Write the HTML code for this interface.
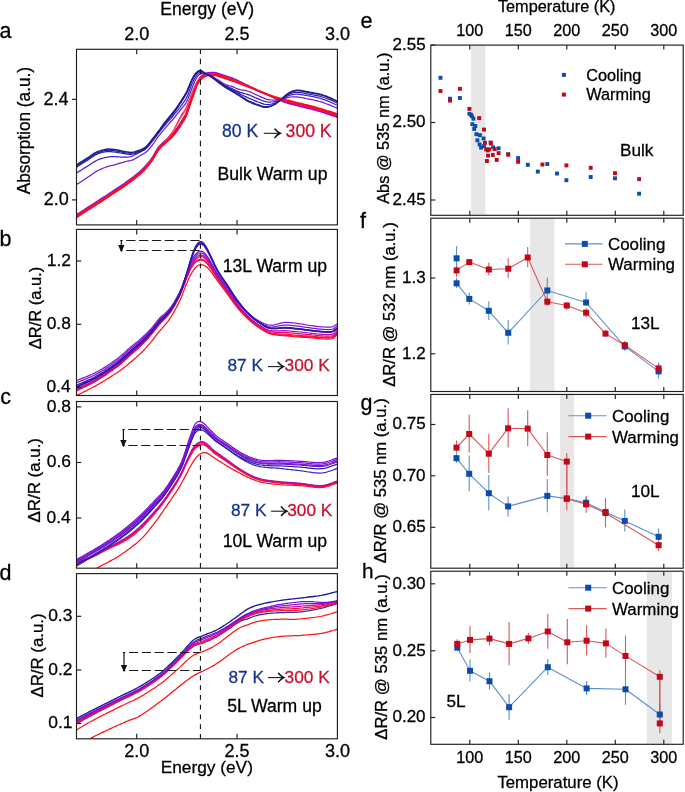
<!DOCTYPE html>
<html><head><meta charset="utf-8"><title>figure</title>
<style>html,body{margin:0;padding:0;background:#fff;}svg{display:block;will-change:transform;}
text{font-family:"Liberation Sans", sans-serif;}</style></head>
<body>
<svg width="685" height="792" viewBox="0 0 685 792" font-family='"Liberation Sans", sans-serif'>
<rect width="685" height="792" fill="#fff"/>
<defs>
<clipPath id="cla"><rect x="76.5" y="49.3" width="260.9" height="175.6"/></clipPath>
<clipPath id="clb"><rect x="76.5" y="229.4" width="260.9" height="166.1"/></clipPath>
<clipPath id="clc"><rect x="76.5" y="401.5" width="260.9" height="166.7"/></clipPath>
<clipPath id="cld"><rect x="76.5" y="573.6" width="260.9" height="165.2"/></clipPath>
</defs>
<rect x="471.2" y="45.7" width="14.3" height="169" fill="#e7e7e7" stroke="none" stroke-width="0" />
<rect x="530.1" y="218.8" width="24.3" height="172.1" fill="#e7e7e7" stroke="none" stroke-width="0" />
<rect x="560" y="395.05" width="14.1" height="172.55" fill="#e7e7e7" stroke="none" stroke-width="0" />
<rect x="646.8" y="571.8" width="25.1" height="171.9" fill="#e7e7e7" stroke="none" stroke-width="0" />
<path d="M76.5 214.7 78.0 213.7 79.5 212.8 81.0 211.8 82.5 210.8 84.0 209.9 85.5 208.9 87.0 207.9 88.5 206.9 90.0 206.0 91.5 205.0 93.0 204.0 94.5 203.1 96.0 202.1 97.5 201.1 99.0 200.2 100.5 199.2 102.0 198.2 103.5 197.2 105.0 196.3 106.5 195.3 108.0 194.3 109.5 193.3 111.0 192.3 112.5 191.4 114.0 190.4 115.5 189.4 117.0 188.4 118.5 187.4 120.0 186.4 121.5 185.4 123.0 184.3 124.5 183.3 126.0 182.2 127.5 181.2 129.0 180.1 130.5 179.0 132.0 177.9 133.5 176.8 135.0 175.6 136.5 174.4 138.0 173.2 139.5 171.9 141.0 170.6 142.5 169.1 144.0 167.6 145.5 165.9 147.0 164.2 148.5 162.5 150.0 160.6 151.5 158.6 153.0 156.3 154.5 153.8 156.0 151.2 157.5 148.7 159.0 146.7 160.5 145.0 162.0 143.5 163.5 142.1 165.0 140.8 166.5 139.5 168.0 138.0 169.5 136.6 171.0 135.2 172.5 133.6 174.0 132.0 175.5 130.2 177.0 128.2 178.5 126.0 180.0 123.7 181.5 121.2 183.0 118.7 184.5 116.5 186.0 113.5 187.5 109.5 189.0 104.9 190.5 100.6 192.0 96.3 193.5 92.1 195.0 87.7 196.5 83.5 198.0 80.6 199.5 78.3 201.0 76.6 202.5 75.3 204.0 74.3 205.5 73.5 207.0 73.0 208.5 72.7 210.0 72.6 211.5 72.5 213.0 72.5 214.5 72.6 216.0 72.8 217.5 73.2 219.0 73.6 220.5 74.1 222.0 74.6 223.5 75.1 225.0 75.6 226.5 76.1 228.0 76.7 229.5 77.2 231.0 77.7 232.5 78.3 234.0 78.9 235.5 79.5 237.0 80.2 238.5 80.9 240.0 81.6 241.5 82.3 243.0 83.1 244.5 83.8 246.0 84.6 247.5 85.3 249.0 86.0 250.5 86.8 252.0 87.5 253.5 88.2 255.0 89.0 256.5 89.7 258.0 90.4 259.5 91.0 261.0 91.7 262.5 92.3 264.0 93.0 265.5 93.7 267.0 94.4 268.5 95.1 270.0 95.8 271.5 96.6 273.0 97.3 274.5 98.0 276.0 98.7 277.5 99.4 279.0 100.0 280.5 100.6 282.0 101.2 283.5 101.8 285.0 102.3 286.5 102.8 288.0 103.3 289.5 103.7 291.0 104.1 292.5 104.5 294.0 104.9 295.5 105.3 297.0 105.6 298.5 106.0 300.0 106.4 301.5 106.7 303.0 107.1 304.5 107.5 306.0 107.8 307.5 108.2 309.0 108.5 310.5 108.9 312.0 109.3 313.5 109.7 315.0 110.1 316.5 110.5 318.0 111.0 319.5 111.4 321.0 111.9 322.5 112.3 324.0 112.8 325.5 113.3 327.0 113.8 328.5 114.2 330.0 114.7 331.5 115.2 333.0 115.7 334.5 116.2 336.0 116.7 337.4 117.2" stroke="#8a10d8" stroke-width="1.5" fill="none" clip-path="url(#cla)" stroke-linejoin="round"/>
<path d="M76.5 215.6 78.0 214.6 79.5 213.7 81.0 212.7 82.5 211.7 84.0 210.8 85.5 209.8 87.0 208.8 88.5 207.8 90.0 206.9 91.5 205.9 93.0 204.9 94.5 204.0 96.0 203.0 97.5 202.0 99.0 201.1 100.5 200.1 102.0 199.1 103.5 198.1 105.0 197.2 106.5 196.2 108.0 195.2 109.5 194.2 111.0 193.2 112.5 192.3 114.0 191.3 115.5 190.3 117.0 189.3 118.5 188.3 120.0 187.3 121.5 186.3 123.0 185.2 124.5 184.2 126.0 183.1 127.5 182.1 129.0 181.0 130.5 179.9 132.0 178.8 133.5 177.7 135.0 176.5 136.5 175.3 138.0 174.1 139.5 172.8 141.0 171.5 142.5 170.0 144.0 168.5 145.5 166.8 147.0 165.1 148.5 163.4 150.0 161.5 151.5 159.5 153.0 157.2 154.5 154.7 156.0 152.1 157.5 149.6 159.0 147.6 160.5 145.9 162.0 144.4 163.5 143.0 165.0 141.7 166.5 140.4 168.0 138.9 169.5 137.5 171.0 136.1 172.5 134.5 174.0 132.9 175.5 131.1 177.0 129.1 178.5 126.9 180.0 124.6 181.5 122.1 183.0 119.6 184.5 117.4 186.0 114.4 187.5 110.4 189.0 105.8 190.5 101.5 192.0 97.2 193.5 93.0 195.0 88.6 196.5 84.4 198.0 81.5 199.5 79.2 201.0 77.5 202.5 76.2 204.0 75.2 205.5 74.4 207.0 73.9 208.5 73.6 210.0 73.5 211.5 73.4 213.0 73.4 214.5 73.5 216.0 73.7 217.5 74.1 219.0 74.5 220.5 75.0 222.0 75.5 223.5 76.0 225.0 76.5 226.5 77.0 228.0 77.6 229.5 78.1 231.0 78.6 232.5 79.2 234.0 79.8 235.5 80.4 237.0 81.0 238.5 81.7 240.0 82.3 241.5 83.0 243.0 83.7 244.5 84.4 246.0 85.2 247.5 85.9 249.0 86.6 250.5 87.3 252.0 88.0 253.5 88.7 255.0 89.3 256.5 90.0 258.0 90.7 259.5 91.4 261.0 92.0 262.5 92.6 264.0 93.3 265.5 93.9 267.0 94.6 268.5 95.2 270.0 95.9 271.5 96.6 273.0 97.2 274.5 97.8 276.0 98.5 277.5 99.0 279.0 99.6 280.5 100.1 282.0 100.6 283.5 101.1 285.0 101.6 286.5 102.1 288.0 102.5 289.5 102.9 291.0 103.3 292.5 103.7 294.0 104.1 295.5 104.5 297.0 104.8 298.5 105.2 300.0 105.6 301.5 105.9 303.0 106.3 304.5 106.7 306.0 107.0 307.5 107.4 309.0 107.7 310.5 108.1 312.0 108.5 313.5 108.9 315.0 109.3 316.5 109.7 318.0 110.2 319.5 110.6 321.0 111.1 322.5 111.5 324.0 112.0 325.5 112.5 327.0 113.0 328.5 113.4 330.0 113.9 331.5 114.4 333.0 114.9 334.5 115.4 336.0 115.9 337.4 116.4" stroke="#b008b8" stroke-width="1.38" fill="none" clip-path="url(#cla)" stroke-linejoin="round"/>
<path d="M76.5 216.2 78.0 215.2 79.5 214.3 81.0 213.3 82.5 212.3 84.0 211.4 85.5 210.4 87.0 209.4 88.5 208.4 90.0 207.5 91.5 206.5 93.0 205.5 94.5 204.6 96.0 203.6 97.5 202.6 99.0 201.7 100.5 200.7 102.0 199.7 103.5 198.7 105.0 197.8 106.5 196.8 108.0 195.8 109.5 194.8 111.0 193.8 112.5 192.9 114.0 191.9 115.5 190.9 117.0 189.9 118.5 188.9 120.0 187.9 121.5 186.9 123.0 185.8 124.5 184.8 126.0 183.7 127.5 182.7 129.0 181.6 130.5 180.5 132.0 179.4 133.5 178.3 135.0 177.1 136.5 175.9 138.0 174.7 139.5 173.4 141.0 172.1 142.5 170.6 144.0 169.1 145.5 167.4 147.0 165.7 148.5 164.0 150.0 162.1 151.5 160.1 153.0 157.8 154.5 155.3 156.0 152.7 157.5 150.2 159.0 148.2 160.5 146.5 162.0 145.0 163.5 143.6 165.0 141.9 166.5 139.9 168.0 137.7 169.5 135.6 171.0 133.8 172.5 132.0 174.0 129.5 175.5 126.6 177.0 123.5 178.5 120.4 180.0 117.5 181.5 114.9 183.0 112.6 184.5 110.5 186.0 108.0 187.5 104.6 189.0 100.6 190.5 96.6 192.0 92.7 193.5 89.1 195.0 86.0 196.5 82.9 198.0 80.4 199.5 78.6 201.0 77.4 202.5 76.6 204.0 75.8 205.5 75.0 207.0 74.5 208.5 74.2 210.0 74.1 211.5 74.0 213.0 74.0 214.5 74.1 216.0 74.3 217.5 74.7 219.0 75.1 220.5 75.6 222.0 76.1 223.5 76.6 225.0 77.1 226.5 77.6 228.0 78.2 229.5 78.7 231.0 79.2 232.5 79.8 234.0 80.3 235.5 80.9 237.0 81.5 238.5 82.1 240.0 82.7 241.5 83.4 243.0 84.0 244.5 84.7 246.0 85.3 247.5 85.9 249.0 86.6 250.5 87.2 252.0 87.9 253.5 88.5 255.0 89.2 256.5 89.8 258.0 90.4 259.5 91.1 261.0 91.7 262.5 92.3 264.0 93.0 265.5 93.6 267.0 94.2 268.5 94.8 270.0 95.4 271.5 96.0 273.0 96.6 274.5 97.2 276.0 97.7 277.5 98.2 279.0 98.7 280.5 99.2 282.0 99.6 283.5 100.1 285.0 100.5 286.5 100.9 288.0 101.3 289.5 101.7 291.0 102.1 292.5 102.5 294.0 102.9 295.5 103.3 297.0 103.6 298.5 104.0 300.0 104.4 301.5 104.7 303.0 105.1 304.5 105.5 306.0 105.8 307.5 106.2 309.0 106.5 310.5 106.9 312.0 107.3 313.5 107.7 315.0 108.1 316.5 108.5 318.0 109.0 319.5 109.4 321.0 109.9 322.5 110.3 324.0 110.8 325.5 111.3 327.0 111.8 328.5 112.2 330.0 112.7 331.5 113.2 333.0 113.7 334.5 114.2 336.0 114.7 337.4 115.2" stroke="#ff1a3a" stroke-width="1.12" fill="none" clip-path="url(#cla)" stroke-linejoin="round"/>
<path d="M76.5 216.2 78.0 215.2 79.5 214.3 81.0 213.3 82.5 212.3 84.0 211.4 85.5 210.4 87.0 209.4 88.5 208.4 90.0 207.5 91.5 206.5 93.0 205.5 94.5 204.6 96.0 203.6 97.5 202.6 99.0 201.7 100.5 200.7 102.0 199.7 103.5 198.7 105.0 197.8 106.5 196.8 108.0 195.8 109.5 194.8 111.0 193.8 112.5 192.9 114.0 191.9 115.5 190.9 117.0 189.9 118.5 188.9 120.0 187.9 121.5 186.9 123.0 185.8 124.5 184.8 126.0 183.7 127.5 182.7 129.0 181.6 130.5 180.5 132.0 179.4 133.5 178.3 135.0 177.1 136.5 175.9 138.0 174.7 139.5 173.4 141.0 172.1 142.5 170.6 144.0 169.1 145.5 167.4 147.0 165.7 148.5 164.0 150.0 162.1 151.5 160.1 153.0 157.8 154.5 155.3 156.0 152.7 157.5 150.2 159.0 148.2 160.5 146.5 162.0 145.0 163.5 143.6 165.0 142.0 166.5 140.1 168.0 138.1 169.5 136.2 171.0 134.5 172.5 132.7 174.0 130.4 175.5 127.7 177.0 124.8 178.5 121.8 180.0 119.0 181.5 116.5 183.0 114.1 184.5 112.0 186.0 109.5 187.5 105.9 189.0 101.8 190.5 97.8 192.0 93.8 193.5 90.1 195.0 86.6 196.5 83.3 198.0 80.8 199.5 78.8 201.0 77.6 202.5 76.6 204.0 75.8 205.5 75.0 207.0 74.5 208.5 74.2 210.0 74.1 211.5 74.0 213.0 74.0 214.5 74.1 216.0 74.3 217.5 74.7 219.0 75.1 220.5 75.6 222.0 76.1 223.5 76.6 225.0 77.1 226.5 77.6 228.0 78.2 229.5 78.7 231.0 79.2 232.5 79.8 234.0 80.3 235.5 80.9 237.0 81.5 238.5 82.1 240.0 82.7 241.5 83.4 243.0 84.0 244.5 84.7 246.0 85.3 247.5 85.9 249.0 86.6 250.5 87.2 252.0 87.9 253.5 88.5 255.0 89.2 256.5 89.8 258.0 90.4 259.5 91.1 261.0 91.7 262.5 92.3 264.0 93.0 265.5 93.6 267.0 94.2 268.5 94.8 270.0 95.4 271.5 96.0 273.0 96.6 274.5 97.2 276.0 97.7 277.5 98.2 279.0 98.7 280.5 99.2 282.0 99.6 283.5 100.1 285.0 100.5 286.5 100.9 288.0 101.3 289.5 101.7 291.0 102.1 292.5 102.5 294.0 102.9 295.5 103.3 297.0 103.6 298.5 104.0 300.0 104.4 301.5 104.7 303.0 105.1 304.5 105.5 306.0 105.8 307.5 106.2 309.0 106.5 310.5 106.9 312.0 107.3 313.5 107.7 315.0 108.1 316.5 108.5 318.0 109.0 319.5 109.4 321.0 109.9 322.5 110.3 324.0 110.8 325.5 111.3 327.0 111.8 328.5 112.2 330.0 112.7 331.5 113.2 333.0 113.7 334.5 114.2 336.0 114.7 337.4 115.2" stroke="#ff4060" stroke-width="1.12" fill="none" clip-path="url(#cla)" stroke-linejoin="round"/>
<path d="M76.5 216.5 78.0 215.5 79.5 214.6 81.0 213.6 82.5 212.6 84.0 211.7 85.5 210.7 87.0 209.7 88.5 208.7 90.0 207.8 91.5 206.8 93.0 205.8 94.5 204.9 96.0 203.9 97.5 202.9 99.0 202.0 100.5 201.0 102.0 200.0 103.5 199.0 105.0 198.1 106.5 197.1 108.0 196.1 109.5 195.1 111.0 194.1 112.5 193.2 114.0 192.2 115.5 191.2 117.0 190.2 118.5 189.2 120.0 188.2 121.5 187.2 123.0 186.1 124.5 185.1 126.0 184.0 127.5 183.0 129.0 181.9 130.5 180.8 132.0 179.7 133.5 178.6 135.0 177.4 136.5 176.2 138.0 175.0 139.5 173.7 141.0 172.4 142.5 170.9 144.0 169.4 145.5 167.7 147.0 166.0 148.5 164.3 150.0 162.4 151.5 160.4 153.0 158.1 154.5 155.6 156.0 153.0 157.5 150.5 159.0 148.5 160.5 146.8 162.0 145.3 163.5 143.9 165.0 142.6 166.5 141.3 168.0 139.8 169.5 138.4 171.0 137.0 172.5 135.4 174.0 133.8 175.5 132.0 177.0 130.0 178.5 127.8 180.0 125.5 181.5 123.0 183.0 120.5 184.5 118.3 186.0 115.3 187.5 111.3 189.0 106.7 190.5 102.4 192.0 98.1 193.5 93.9 195.0 89.5 196.5 85.3 198.0 82.4 199.5 80.1 201.0 78.4 202.5 77.1 204.0 76.1 205.5 75.3 207.0 74.8 208.5 74.5 210.0 74.4 211.5 74.3 213.0 74.3 214.5 74.4 216.0 74.6 217.5 75.0 219.0 75.4 220.5 75.9 222.0 76.4 223.5 76.9 225.0 77.4 226.5 77.9 228.0 78.5 229.5 79.0 231.0 79.5 232.5 80.1 234.0 80.6 235.5 81.2 237.0 81.8 238.5 82.4 240.0 83.0 241.5 83.7 243.0 84.3 244.5 85.0 246.0 85.6 247.5 86.2 249.0 86.9 250.5 87.5 252.0 88.2 253.5 88.8 255.0 89.5 256.5 90.1 258.0 90.7 259.5 91.4 261.0 92.0 262.5 92.6 264.0 93.3 265.5 93.9 267.0 94.5 268.5 95.1 270.0 95.7 271.5 96.3 273.0 96.9 274.5 97.5 276.0 98.0 277.5 98.5 279.0 99.0 280.5 99.5 282.0 99.9 283.5 100.4 285.0 100.8 286.5 101.2 288.0 101.6 289.5 102.0 291.0 102.4 292.5 102.8 294.0 103.2 295.5 103.6 297.0 103.9 298.5 104.3 300.0 104.7 301.5 105.0 303.0 105.4 304.5 105.8 306.0 106.1 307.5 106.5 309.0 106.8 310.5 107.2 312.0 107.6 313.5 108.0 315.0 108.4 316.5 108.8 318.0 109.3 319.5 109.7 321.0 110.2 322.5 110.6 324.0 111.1 325.5 111.6 327.0 112.1 328.5 112.5 330.0 113.0 331.5 113.5 333.0 114.0 334.5 114.5 336.0 115.0 337.4 115.5" stroke="#ff0a30" stroke-width="1.75" fill="none" clip-path="url(#cla)" stroke-linejoin="round"/>
<path d="M76.5 217.4 78.0 216.4 79.5 215.5 81.0 214.5 82.5 213.5 84.0 212.6 85.5 211.6 87.0 210.6 88.5 209.6 90.0 208.7 91.5 207.7 93.0 206.7 94.5 205.8 96.0 204.8 97.5 203.8 99.0 202.9 100.5 201.9 102.0 200.9 103.5 199.9 105.0 199.0 106.5 198.0 108.0 197.0 109.5 196.0 111.0 195.0 112.5 194.1 114.0 193.1 115.5 192.1 117.0 191.1 118.5 190.1 120.0 189.1 121.5 188.1 123.0 187.0 124.5 186.0 126.0 184.9 127.5 183.9 129.0 182.8 130.5 181.7 132.0 180.6 133.5 179.5 135.0 178.3 136.5 177.1 138.0 175.9 139.5 174.6 141.0 173.3 142.5 171.8 144.0 170.3 145.5 168.6 147.0 166.9 148.5 165.2 150.0 163.3 151.5 161.3 153.0 159.0 154.5 156.5 156.0 153.9 157.5 151.4 159.0 149.4 160.5 147.7 162.0 146.2 163.5 144.8 165.0 143.5 166.5 142.2 168.0 140.7 169.5 139.3 171.0 137.9 172.5 136.3 174.0 134.7 175.5 132.9 177.0 130.9 178.5 128.7 180.0 126.4 181.5 123.9 183.0 121.4 184.5 119.2 186.0 116.2 187.5 112.2 189.0 107.6 190.5 103.3 192.0 99.0 193.5 94.8 195.0 90.4 196.5 86.2 198.0 83.3 199.5 81.0 201.0 79.3 202.5 78.0 204.0 77.0 205.5 76.2 207.0 75.7 208.5 75.4 210.0 75.3 211.5 75.2 213.0 75.2 214.5 75.3 216.0 75.5 217.5 75.9 219.0 76.3 220.5 76.8 222.0 77.3 223.5 77.8 225.0 78.3 226.5 78.8 228.0 79.4 229.5 79.9 231.0 80.4 232.5 80.9 234.0 81.5 235.5 82.0 237.0 82.5 238.5 83.1 240.0 83.7 241.5 84.2 243.0 84.8 244.5 85.3 246.0 85.9 247.5 86.5 249.0 87.0 250.5 87.6 252.0 88.1 253.5 88.7 255.0 89.3 256.5 89.9 258.0 90.5 259.5 91.1 261.0 91.7 262.5 92.3 264.0 92.9 265.5 93.5 267.0 94.1 268.5 94.7 270.0 95.2 271.5 95.8 273.0 96.3 274.5 96.8 276.0 97.2 277.5 97.6 279.0 98.0 280.5 98.4 282.0 98.8 283.5 99.2 285.0 99.6 286.5 100.0 288.0 100.3 289.5 100.7 291.0 101.1 292.5 101.5 294.0 101.9 295.5 102.3 297.0 102.6 298.5 103.0 300.0 103.4 301.5 103.7 303.0 104.1 304.5 104.5 306.0 104.8 307.5 105.2 309.0 105.5 310.5 105.9 312.0 106.3 313.5 106.7 315.0 107.1 316.5 107.5 318.0 108.0 319.5 108.4 321.0 108.9 322.5 109.3 324.0 109.8 325.5 110.3 327.0 110.8 328.5 111.2 330.0 111.7 331.5 112.2 333.0 112.7 334.5 113.2 336.0 113.7 337.4 114.2" stroke="#ff0a18" stroke-width="1.75" fill="none" clip-path="url(#cla)" stroke-linejoin="round"/>
<path d="M76.5 184.6 78.0 183.6 79.5 182.7 81.0 181.7 82.5 180.7 84.0 179.8 85.5 178.8 87.0 177.8 88.5 176.8 90.0 175.7 91.5 174.7 93.0 173.6 94.5 172.6 96.0 171.6 97.5 170.8 99.0 170.0 100.5 169.3 102.0 168.7 103.5 168.0 105.0 167.5 106.5 166.9 108.0 166.4 109.5 166.0 111.0 165.7 112.5 165.4 114.0 165.0 115.5 164.6 117.0 164.2 118.5 163.7 120.0 163.2 121.5 162.8 123.0 162.4 124.5 161.9 126.0 161.5 127.5 161.2 129.0 160.9 130.5 160.6 132.0 160.2 133.5 159.6 135.0 158.8 136.5 157.9 138.0 157.0 139.5 156.0 141.0 155.2 142.5 154.4 144.0 153.5 145.5 152.5 147.0 151.2 148.5 149.7 150.0 147.9 151.5 146.0 153.0 144.0 154.5 142.0 156.0 139.8 157.5 137.7 159.0 135.7 160.5 133.8 162.0 131.9 163.5 130.1 165.0 128.3 166.5 126.6 168.0 124.9 169.5 123.2 171.0 121.5 172.5 119.8 174.0 118.0 175.5 116.1 177.0 114.2 178.5 112.3 180.0 110.5 181.5 108.7 183.0 106.9 184.5 105.2 186.0 103.1 187.5 100.0 189.0 96.2 190.5 92.2 192.0 88.2 193.5 84.4 195.0 80.9 196.5 77.8 198.0 75.7 199.5 74.3 201.0 73.7 202.5 73.5 204.0 73.7 205.5 74.0 207.0 74.4 208.5 74.9 210.0 75.5 211.5 76.1 213.0 76.9 214.5 77.7 216.0 78.7 217.5 79.6 219.0 80.6 220.5 81.6 222.0 82.6 223.5 83.5 225.0 84.3 226.5 84.9 228.0 85.3 229.5 85.8 231.0 86.2 232.5 86.7 234.0 87.2 235.5 88.0 237.0 88.6 238.5 89.1 240.0 89.6 241.5 89.9 243.0 90.1 244.5 90.4 246.0 90.7 247.5 91.0 249.0 91.5 250.5 92.1 252.0 92.8 253.5 93.5 255.0 94.2 256.5 94.9 258.0 95.5 259.5 96.2 261.0 96.9 262.5 97.6 264.0 98.2 265.5 98.8 267.0 99.3 268.5 99.6 270.0 99.9 271.5 100.0 273.0 100.2 274.5 100.2 276.0 100.2 277.5 100.0 279.0 99.8 280.5 99.6 282.0 99.2 283.5 98.7 285.0 98.3 286.5 97.9 288.0 97.5 289.5 97.2 291.0 97.0 292.5 96.8 294.0 96.8 295.5 96.8 297.0 96.9 298.5 97.1 300.0 97.3 301.5 97.5 303.0 97.8 304.5 98.1 306.0 98.5 307.5 98.8 309.0 99.1 310.5 99.4 312.0 99.7 313.5 100.0 315.0 100.3 316.5 100.7 318.0 101.1 319.5 101.5 321.0 101.9 322.5 102.4 324.0 102.9 325.5 103.5 327.0 104.0 328.5 104.6 330.0 105.2 331.5 105.8 333.0 106.4 334.5 107.0 336.0 107.7 337.4 108.2" stroke="#6a1ed0" stroke-width="1.25" fill="none" clip-path="url(#cla)" stroke-linejoin="round"/>
<path d="M76.5 173.0 78.0 172.1 79.5 171.1 81.0 170.2 82.5 169.3 84.0 168.3 85.5 167.4 87.0 166.5 88.5 165.5 90.0 164.6 91.5 163.5 93.0 162.5 94.5 161.6 96.0 160.8 97.5 160.0 99.0 159.4 100.5 158.9 102.0 158.4 103.5 158.0 105.0 157.6 106.5 157.3 108.0 156.9 109.5 156.8 111.0 156.7 112.5 156.7 114.0 156.7 115.5 156.7 117.0 156.8 118.5 156.9 120.0 157.0 121.5 157.0 123.0 157.1 124.5 157.2 126.0 157.2 127.5 157.1 129.0 156.9 130.5 156.6 132.0 156.1 133.5 155.5 135.0 154.7 136.5 154.0 138.0 153.1 139.5 152.3 141.0 151.5 142.5 150.7 144.0 149.9 145.5 148.8 147.0 147.5 148.5 145.9 150.0 144.1 151.5 142.2 153.0 140.3 154.5 138.4 156.0 136.4 157.5 134.4 159.0 132.5 160.5 130.6 162.0 128.7 163.5 126.9 165.0 125.1 166.5 123.4 168.0 121.7 169.5 120.0 171.0 118.3 172.5 116.5 174.0 114.7 175.5 112.9 177.0 111.1 178.5 109.2 180.0 107.3 181.5 105.3 183.0 103.2 184.5 101.2 186.0 98.8 187.5 95.7 189.0 91.8 190.5 87.8 192.0 84.1 193.5 80.7 195.0 77.7 196.5 75.2 198.0 73.4 199.5 72.4 201.0 72.2 202.5 72.5 204.0 73.2 205.5 73.8 207.0 74.4 208.5 75.0 210.0 75.7 211.5 76.5 213.0 77.4 214.5 78.4 216.0 79.4 217.5 80.4 219.0 81.5 220.5 82.6 222.0 83.6 223.5 84.6 225.0 85.4 226.5 86.2 228.0 86.8 229.5 87.5 231.0 88.1 232.5 88.8 234.0 89.5 235.5 90.3 237.0 91.1 238.5 91.7 240.0 92.3 241.5 92.7 243.0 93.1 244.5 93.6 246.0 94.0 247.5 94.4 249.0 94.9 250.5 95.6 252.0 96.2 253.5 96.9 255.0 97.6 256.5 98.2 258.0 98.8 259.5 99.4 261.0 100.0 262.5 100.7 264.0 101.2 265.5 101.6 267.0 101.9 268.5 102.1 270.0 102.1 271.5 102.0 273.0 101.9 274.5 101.7 276.0 101.4 277.5 100.9 279.0 100.4 280.5 99.7 282.0 99.0 283.5 98.2 285.0 97.4 286.5 96.6 288.0 96.0 289.5 95.4 291.0 94.9 292.5 94.6 294.0 94.3 295.5 94.2 297.0 94.2 298.5 94.2 300.0 94.4 301.5 94.6 303.0 94.8 304.5 95.1 306.0 95.4 307.5 95.7 309.0 95.9 310.5 96.2 312.0 96.5 313.5 96.7 315.0 97.1 316.5 97.4 318.0 97.8 319.5 98.1 321.0 98.6 322.5 99.1 324.0 99.6 325.5 100.2 327.0 100.7 328.5 101.4 330.0 102.0 331.5 102.6 333.0 103.3 334.5 104.0 336.0 104.7 337.4 105.3" stroke="#4a1ec0" stroke-width="1.25" fill="none" clip-path="url(#cla)" stroke-linejoin="round"/>
<path d="M76.5 167.1 78.0 166.2 79.5 165.2 81.0 164.3 82.5 163.3 84.0 162.4 85.5 161.5 87.0 160.5 88.5 159.6 90.0 158.5 91.5 157.5 93.0 156.5 94.5 155.5 96.0 154.7 97.5 154.0 99.0 153.4 100.5 152.9 102.0 152.5 103.5 152.2 105.0 151.9 106.5 151.7 108.0 151.5 109.5 151.5 111.0 151.6 112.5 151.8 114.0 152.0 115.5 152.2 117.0 152.4 118.5 152.7 120.0 153.0 121.5 153.2 123.0 153.5 124.5 153.7 126.0 153.9 127.5 154.1 129.0 154.3 130.5 154.3 132.0 154.2 133.5 154.0 135.0 153.6 136.5 153.2 138.0 152.6 139.5 152.1 141.0 151.5 142.5 150.8 144.0 150.0 145.5 148.9 147.0 147.5 148.5 145.8 150.0 143.9 151.5 141.9 153.0 140.1 154.5 138.1 156.0 136.1 157.5 134.1 159.0 132.0 160.5 129.9 162.0 127.9 163.5 125.8 165.0 123.9 166.5 121.9 168.0 120.1 169.5 118.2 171.0 116.4 172.5 114.5 174.0 112.6 175.5 110.6 177.0 108.5 178.5 106.3 180.0 104.0 181.5 101.7 183.0 99.3 184.5 96.9 186.0 94.3 187.5 91.3 189.0 87.5 190.5 83.7 192.0 80.3 193.5 77.4 195.0 75.0 196.5 73.1 198.0 71.8 199.5 71.1 201.0 71.1 202.5 71.7 204.0 72.7 205.5 73.6 207.0 74.4 208.5 75.2 210.0 76.0 211.5 76.8 213.0 77.8 214.5 78.8 216.0 79.9 217.5 80.9 219.0 82.0 220.5 83.1 222.0 84.1 223.5 85.1 225.0 86.0 226.5 86.8 228.0 87.6 229.5 88.3 231.0 89.1 232.5 89.8 234.0 90.6 235.5 91.4 237.0 92.3 238.5 93.1 240.0 93.9 241.5 94.7 243.0 95.4 244.5 96.2 246.0 96.9 247.5 97.6 249.0 98.2 250.5 98.9 252.0 99.5 253.5 100.2 255.0 100.8 256.5 101.4 258.0 102.0 259.5 102.5 261.0 103.1 262.5 103.7 264.0 104.1 265.5 104.4 267.0 104.5 268.5 104.5 270.0 104.3 271.5 104.0 273.0 103.6 274.5 103.1 276.0 102.5 277.5 101.7 279.0 100.8 280.5 99.9 282.0 98.8 283.5 97.7 285.0 96.6 286.5 95.7 288.0 94.8 289.5 94.0 291.0 93.4 292.5 92.9 294.0 92.5 295.5 92.3 297.0 92.3 298.5 92.3 300.0 92.4 301.5 92.7 303.0 92.9 304.5 93.2 306.0 93.6 307.5 93.9 309.0 94.2 310.5 94.4 312.0 94.7 313.5 95.0 315.0 95.3 316.5 95.6 318.0 95.9 319.5 96.2 321.0 96.6 322.5 97.0 324.0 97.5 325.5 98.0 327.0 98.6 328.5 99.1 330.0 99.7 331.5 100.3 333.0 101.0 334.5 101.7 336.0 102.5 337.4 103.1" stroke="#2a20aa" stroke-width="1.25" fill="none" clip-path="url(#cla)" stroke-linejoin="round"/>
<path d="M76.5 166.0 78.0 165.1 79.5 164.1 81.0 163.2 82.5 162.2 84.0 161.3 85.5 160.4 87.0 159.4 88.5 158.5 90.0 157.4 91.5 156.4 93.0 155.3 94.5 154.4 96.0 153.5 97.5 152.8 99.0 152.3 100.5 151.8 102.0 151.4 103.5 151.0 105.0 150.7 106.5 150.5 108.0 150.3 109.5 150.3 111.0 150.3 112.5 150.5 114.0 150.7 115.5 150.9 117.0 151.2 118.5 151.4 120.0 151.7 121.5 152.0 123.0 152.3 124.5 152.6 126.0 152.8 127.5 153.0 129.0 153.2 130.5 153.3 132.0 153.2 133.5 153.0 135.0 152.6 136.5 152.2 138.0 151.7 139.5 151.1 141.0 150.5 142.5 149.8 144.0 149.0 145.5 147.9 147.0 146.5 148.5 144.8 150.0 142.9 151.5 141.0 153.0 139.1 154.5 137.2 156.0 135.3 157.5 133.2 159.0 131.2 160.5 129.1 162.0 127.0 163.5 125.0 165.0 123.0 166.5 121.1 168.0 119.2 169.5 117.4 171.0 115.5 172.5 113.7 174.0 111.8 175.5 109.8 177.0 107.7 178.5 105.5 180.0 103.3 181.5 100.9 183.0 98.5 184.5 96.2 186.0 93.6 187.5 90.6 189.0 86.9 190.5 83.1 192.0 79.8 193.5 76.9 195.0 74.6 196.5 72.7 198.0 71.4 199.5 70.8 201.0 70.9 202.5 71.6 204.0 72.6 205.5 73.5 207.0 74.4 208.5 75.2 210.0 76.0 211.5 77.0 213.0 78.0 214.5 79.1 216.0 80.2 217.5 81.3 219.0 82.5 220.5 83.6 222.0 84.7 223.5 85.7 225.0 86.7 226.5 87.6 228.0 88.4 229.5 89.3 231.0 90.1 232.5 91.0 234.0 91.9 235.5 92.8 237.0 93.7 238.5 94.6 240.0 95.6 241.5 96.5 243.0 97.5 244.5 98.4 246.0 99.3 247.5 100.2 249.0 101.0 250.5 101.6 252.0 102.3 253.5 102.9 255.0 103.6 256.5 104.2 258.0 104.7 259.5 105.2 261.0 105.8 262.5 106.2 264.0 106.6 265.5 106.7 267.0 106.6 268.5 106.4 270.0 106.1 271.5 105.6 273.0 105.0 274.5 104.3 276.0 103.4 277.5 102.3 279.0 101.2 280.5 100.0 282.0 98.7 283.5 97.3 285.0 96.0 286.5 94.9 288.0 93.9 289.5 92.9 291.0 92.1 292.5 91.5 294.0 91.1 295.5 90.8 297.0 90.7 298.5 90.7 300.0 90.8 301.5 91.0 303.0 91.3 304.5 91.6 306.0 92.0 307.5 92.3 309.0 92.6 310.5 92.8 312.0 93.1 313.5 93.3 315.0 93.6 316.5 93.9 318.0 94.2 319.5 94.6 321.0 94.9 322.5 95.4 324.0 95.9 325.5 96.4 327.0 97.0 328.5 97.6 330.0 98.2 331.5 98.8 333.0 99.6 334.5 100.3 336.0 101.0 337.4 101.7" stroke="#23209e" stroke-width="1.25" fill="none" clip-path="url(#cla)" stroke-linejoin="round"/>
<path d="M76.5 164.8 78.0 163.9 79.5 162.9 81.0 162.0 82.5 161.1 84.0 160.1 85.5 159.2 87.0 158.2 88.5 157.3 90.0 156.3 91.5 155.2 93.0 154.2 94.5 153.2 96.0 152.4 97.5 151.7 99.0 151.1 100.5 150.6 102.0 150.2 103.5 149.9 105.0 149.6 106.5 149.3 108.0 149.1 109.5 149.1 111.0 149.2 112.5 149.3 114.0 149.5 115.5 149.7 117.0 150.0 118.5 150.3 120.0 150.6 121.5 150.9 123.0 151.3 124.5 151.5 126.0 151.8 127.5 152.0 129.0 152.2 130.5 152.4 132.0 152.3 133.5 152.1 135.0 151.8 136.5 151.3 138.0 150.8 139.5 150.3 141.0 149.7 142.5 149.0 144.0 148.2 145.5 147.1 147.0 145.7 148.5 144.0 150.0 142.1 151.5 140.2 153.0 138.3 154.5 136.5 156.0 134.5 157.5 132.5 159.0 130.4 160.5 128.4 162.0 126.3 163.5 124.3 165.0 122.3 166.5 120.4 168.0 118.5 169.5 116.7 171.0 114.9 172.5 113.0 174.0 111.1 175.5 109.2 177.0 107.1 178.5 104.9 180.0 102.7 181.5 100.4 183.0 98.0 184.5 95.7 186.0 93.1 187.5 90.1 189.0 86.4 190.5 82.7 192.0 79.4 193.5 76.5 195.0 74.2 196.5 72.5 198.0 71.2 199.5 70.6 201.0 70.8 202.5 71.5 204.0 72.5 205.5 73.5 207.0 74.4 208.5 75.2 210.0 76.1 211.5 77.1 213.0 78.1 214.5 79.3 216.0 80.4 217.5 81.6 219.0 82.8 220.5 83.9 222.0 85.0 223.5 86.1 225.0 87.1 226.5 88.0 228.0 88.9 229.5 89.8 231.0 90.6 232.5 91.5 234.0 92.4 235.5 93.3 237.0 94.3 238.5 95.2 240.0 96.2 241.5 97.2 243.0 98.2 244.5 99.1 246.0 100.1 247.5 101.0 249.0 101.7 250.5 102.4 252.0 103.0 253.5 103.7 255.0 104.3 256.5 104.9 258.0 105.4 259.5 105.9 261.0 106.4 262.5 106.9 264.0 107.2 265.5 107.3 267.0 107.2 268.5 106.9 270.0 106.5 271.5 106.0 273.0 105.3 274.5 104.6 276.0 103.6 277.5 102.5 279.0 101.3 280.5 100.0 282.0 98.7 283.5 97.3 285.0 95.9 286.5 94.7 288.0 93.6 289.5 92.7 291.0 91.8 292.5 91.2 294.0 90.7 295.5 90.4 297.0 90.3 298.5 90.3 300.0 90.4 301.5 90.6 303.0 90.9 304.5 91.2 306.0 91.5 307.5 91.8 309.0 92.1 310.5 92.4 312.0 92.6 313.5 92.9 315.0 93.2 316.5 93.5 318.0 93.8 319.5 94.1 321.0 94.5 322.5 94.9 324.0 95.4 325.5 95.9 327.0 96.5 328.5 97.1 330.0 97.7 331.5 98.4 333.0 99.1 334.5 99.9 336.0 100.6 337.4 101.3" stroke="#1e1e94" stroke-width="1.5" fill="none" clip-path="url(#cla)" stroke-linejoin="round"/>
<path d="M76.5 395.6 78.0 394.8 79.5 394.1 81.0 393.3 82.5 392.6 84.0 391.8 85.5 391.1 87.0 390.3 88.5 389.5 90.0 388.8 91.5 388.0 93.0 387.2 94.5 386.4 96.0 385.6 97.5 384.7 99.0 383.9 100.5 383.0 102.0 382.1 103.5 381.2 105.0 380.3 106.5 379.3 108.0 378.4 109.5 377.5 111.0 376.5 112.5 375.6 114.0 374.6 115.5 373.6 117.0 372.7 118.5 371.7 120.0 370.6 121.5 369.6 123.0 368.4 124.5 367.2 126.0 366.0 127.5 364.7 129.0 363.5 130.5 362.2 132.0 361.0 133.5 359.7 135.0 358.4 136.5 357.1 138.0 355.8 139.5 354.4 141.0 353.0 142.5 351.5 144.0 350.0 145.5 348.4 147.0 346.7 148.5 344.9 150.0 343.1 151.5 341.3 153.0 339.4 154.5 337.5 156.0 335.6 157.5 333.7 159.0 331.8 160.5 330.0 162.0 328.3 163.5 326.6 165.0 324.9 166.5 323.2 168.0 321.3 169.5 319.2 171.0 317.0 172.5 314.5 174.0 311.9 175.5 309.2 177.0 306.4 178.5 303.4 180.0 300.3 181.5 296.8 183.0 292.9 184.5 288.9 186.0 285.0 187.5 281.4 189.0 278.0 190.5 275.1 192.0 272.5 193.5 270.2 195.0 268.2 196.5 266.6 198.0 265.5 199.5 264.8 201.0 264.6 202.5 264.8 204.0 265.3 205.5 266.2 207.0 267.3 208.5 268.7 210.0 270.4 211.5 272.3 213.0 274.4 214.5 276.6 216.0 278.7 217.5 280.8 219.0 282.8 220.5 284.8 222.0 286.8 223.5 288.9 225.0 290.9 226.5 292.9 228.0 295.0 229.5 297.1 231.0 299.2 232.5 301.3 234.0 303.4 235.5 305.4 237.0 307.3 238.5 309.1 240.0 310.8 241.5 312.5 243.0 314.1 244.5 315.6 246.0 317.1 247.5 318.5 249.0 319.9 250.5 321.3 252.0 322.5 253.5 323.7 255.0 324.9 256.5 326.0 258.0 327.1 259.5 328.1 261.0 329.1 262.5 330.0 264.0 331.0 265.5 331.8 267.0 332.6 268.5 333.3 270.0 333.8 271.5 334.2 273.0 334.6 274.5 334.8 276.0 335.0 277.5 335.2 279.0 335.3 280.5 335.4 282.0 335.6 283.5 335.7 285.0 335.8 286.5 335.9 288.0 336.1 289.5 336.2 291.0 336.4 292.5 336.5 294.0 336.6 295.5 336.8 297.0 336.9 298.5 337.0 300.0 337.1 301.5 337.2 303.0 337.3 304.5 337.4 306.0 337.5 307.5 337.6 309.0 337.7 310.5 337.8 312.0 337.9 313.5 338.1 315.0 338.2 316.5 338.4 318.0 338.5 319.5 338.7 321.0 338.8 322.5 338.9 324.0 339.0 325.5 339.1 327.0 339.1 328.5 339.1 330.0 339.0 331.5 338.9 333.0 338.5 334.5 337.3 336.0 335.8 337.4 334.5" stroke="#ff1018" stroke-width="1.25" fill="none" clip-path="url(#clb)" stroke-linejoin="round"/>
<path d="M76.5 391.0 78.0 390.2 79.5 389.5 81.0 388.8 82.5 388.0 84.0 387.3 85.5 386.6 87.0 385.9 88.5 385.1 90.0 384.3 91.5 383.5 93.0 382.7 94.5 381.9 96.0 381.0 97.5 380.1 99.0 379.2 100.5 378.3 102.0 377.3 103.5 376.4 105.0 375.4 106.5 374.4 108.0 373.3 109.5 372.3 111.0 371.2 112.5 370.2 114.0 369.1 115.5 368.0 117.0 366.9 118.5 365.8 120.0 364.6 121.5 363.3 123.0 362.0 124.5 360.6 126.0 359.2 127.5 357.8 129.0 356.4 130.5 355.0 132.0 353.7 133.5 352.4 135.0 351.1 136.5 349.8 138.0 348.5 139.5 347.1 141.0 345.6 142.5 344.1 144.0 342.6 145.5 341.1 147.0 339.5 148.5 337.8 150.0 336.1 151.5 334.3 153.0 332.4 154.5 330.5 156.0 328.6 157.5 326.7 159.0 324.9 160.5 323.1 162.0 321.6 163.5 320.1 165.0 318.6 166.5 317.0 168.0 315.2 169.5 313.4 171.0 311.2 172.5 308.9 174.0 306.4 175.5 303.7 177.0 300.9 178.5 298.0 180.0 294.9 181.5 291.4 183.0 287.5 184.5 283.5 186.0 279.6 187.5 275.9 189.0 272.3 190.5 269.2 192.0 266.6 193.5 264.5 195.0 262.9 196.5 261.6 198.0 260.8 199.5 260.2 201.0 260.0 202.5 260.3 204.0 261.0 205.5 262.1 207.0 263.6 208.5 265.3 210.0 267.3 211.5 269.5 213.0 271.8 214.5 274.2 216.0 276.5 217.5 278.7 219.0 280.9 220.5 283.0 222.0 285.1 223.5 287.2 225.0 289.2 226.5 291.3 228.0 293.4 229.5 295.6 231.0 297.8 232.5 300.0 234.0 302.1 235.5 304.2 237.0 306.1 238.5 308.0 240.0 309.7 241.5 311.4 243.0 313.1 244.5 314.7 246.0 316.2 247.5 317.7 249.0 319.1 250.5 320.5 252.0 321.8 253.5 323.0 255.0 324.2 256.5 325.4 258.0 326.4 259.5 327.5 261.0 328.5 262.5 329.5 264.0 330.4 265.5 331.3 267.0 332.0 268.5 332.7 270.0 333.2 271.5 333.7 273.0 334.0 274.5 334.3 276.0 334.5 277.5 334.6 279.0 334.7 280.5 334.8 282.0 334.9 283.5 335.0 285.0 335.1 286.5 335.3 288.0 335.4 289.5 335.5 291.0 335.7 292.5 335.8 294.0 335.9 295.5 336.0 297.0 336.1 298.5 336.2 300.0 336.3 301.5 336.4 303.0 336.5 304.5 336.6 306.0 336.7 307.5 336.8 309.0 336.8 310.5 336.9 312.0 337.0 313.5 337.1 315.0 337.3 316.5 337.4 318.0 337.5 319.5 337.6 321.0 337.7 322.5 337.8 324.0 337.9 325.5 338.0 327.0 338.0 328.5 337.9 330.0 337.8 331.5 337.7 333.0 337.3 334.5 336.2 336.0 334.7 337.4 333.4" stroke="#ff1030" stroke-width="1.25" fill="none" clip-path="url(#clb)" stroke-linejoin="round"/>
<path d="M76.5 390.5 78.0 389.8 79.5 389.1 81.0 388.3 82.5 387.6 84.0 386.9 85.5 386.2 87.0 385.4 88.5 384.7 90.0 383.9 91.5 383.1 93.0 382.3 94.5 381.5 96.0 380.6 97.5 379.8 99.0 378.8 100.5 377.9 102.0 376.9 103.5 376.0 105.0 375.0 106.5 374.0 108.0 372.9 109.5 371.9 111.0 370.8 112.5 369.8 114.0 368.7 115.5 367.6 117.0 366.5 118.5 365.4 120.0 364.2 121.5 362.9 123.0 361.6 124.5 360.2 126.0 358.8 127.5 357.3 129.0 356.0 130.5 354.6 132.0 353.3 133.5 352.0 135.0 350.7 136.5 349.4 138.0 348.0 139.5 346.6 141.0 345.2 142.5 343.7 144.0 342.2 145.5 340.6 147.0 339.0 148.5 337.4 150.0 335.7 151.5 333.9 153.0 332.0 154.5 330.1 156.0 328.2 157.5 326.3 159.0 324.5 160.5 322.7 162.0 321.2 163.5 319.8 165.0 318.3 166.5 316.7 168.0 315.0 169.5 313.1 171.0 311.0 172.5 308.7 174.0 306.2 175.5 303.5 177.0 300.7 178.5 297.8 180.0 294.7 181.5 291.2 183.0 287.3 184.5 283.3 186.0 279.4 187.5 275.6 189.0 271.9 190.5 268.8 192.0 266.1 193.5 263.9 195.0 262.1 196.5 260.8 198.0 259.9 199.5 259.3 201.0 259.1 202.5 259.4 204.0 260.1 205.5 261.3 207.0 262.8 208.5 264.6 210.0 266.6 211.5 268.9 213.0 271.2 214.5 273.7 216.0 276.0 217.5 278.3 219.0 280.4 220.5 282.6 222.0 284.7 223.5 286.7 225.0 288.8 226.5 290.9 228.0 293.0 229.5 295.2 231.0 297.4 232.5 299.5 234.0 301.7 235.5 303.7 237.0 305.7 238.5 307.5 240.0 309.3 241.5 311.0 243.0 312.7 244.5 314.3 246.0 315.8 247.5 317.3 249.0 318.7 250.5 320.1 252.0 321.4 253.5 322.6 255.0 323.8 256.5 324.9 258.0 326.0 259.5 327.0 261.0 328.0 262.5 329.0 264.0 329.9 265.5 330.7 267.0 331.5 268.5 332.1 270.0 332.6 271.5 333.0 273.0 333.3 274.5 333.6 276.0 333.7 277.5 333.8 279.0 333.9 280.5 334.0 282.0 334.0 283.5 334.1 285.0 334.2 286.5 334.3 288.0 334.4 289.5 334.6 291.0 334.7 292.5 334.8 294.0 335.0 295.5 335.1 297.0 335.2 298.5 335.3 300.0 335.4 301.5 335.5 303.0 335.7 304.5 335.8 306.0 335.9 307.5 336.0 309.0 336.1 310.5 336.2 312.0 336.3 313.5 336.4 315.0 336.6 316.5 336.7 318.0 336.8 319.5 337.0 321.0 337.1 322.5 337.2 324.0 337.3 325.5 337.3 327.0 337.3 328.5 337.3 330.0 337.2 331.5 337.1 333.0 336.7 334.5 335.6 336.0 334.2 337.4 332.9" stroke="#f01048" stroke-width="1.25" fill="none" clip-path="url(#clb)" stroke-linejoin="round"/>
<path d="M76.5 389.9 78.0 389.2 79.5 388.5 81.0 387.8 82.5 387.0 84.0 386.3 85.5 385.6 87.0 384.9 88.5 384.1 90.0 383.4 91.5 382.6 93.0 381.8 94.5 381.0 96.0 380.1 97.5 379.2 99.0 378.3 100.5 377.4 102.0 376.5 103.5 375.5 105.0 374.5 106.5 373.5 108.0 372.5 109.5 371.4 111.0 370.4 112.5 369.3 114.0 368.2 115.5 367.1 117.0 366.0 118.5 364.9 120.0 363.7 121.5 362.4 123.0 361.1 124.5 359.7 126.0 358.3 127.5 356.8 129.0 355.5 130.5 354.1 132.0 352.8 133.5 351.5 135.0 350.2 136.5 348.9 138.0 347.6 139.5 346.2 141.0 344.7 142.5 343.3 144.0 341.8 145.5 340.2 147.0 338.6 148.5 337.0 150.0 335.2 151.5 333.5 153.0 331.6 154.5 329.7 156.0 327.8 157.5 325.9 159.0 324.1 160.5 322.4 162.0 320.8 163.5 319.4 165.0 318.0 166.5 316.4 168.0 314.7 169.5 312.8 171.0 310.8 172.5 308.4 174.0 306.0 175.5 303.3 177.0 300.5 178.5 297.6 180.0 294.6 181.5 291.1 183.0 287.1 184.5 283.0 186.0 278.9 187.5 275.0 189.0 271.2 190.5 267.7 192.0 264.7 193.5 262.2 195.0 260.2 196.5 258.6 198.0 257.5 199.5 256.8 201.0 256.6 202.5 256.9 204.0 257.7 205.5 259.0 207.0 260.7 208.5 262.6 210.0 264.8 211.5 267.2 213.0 269.7 214.5 272.3 216.0 274.7 217.5 277.0 219.0 279.3 220.5 281.4 222.0 283.6 223.5 285.6 225.0 287.7 226.5 289.8 228.0 291.9 229.5 294.1 231.0 296.3 232.5 298.5 234.0 300.7 235.5 302.7 237.0 304.7 238.5 306.6 240.0 308.3 241.5 310.1 243.0 311.7 244.5 313.3 246.0 314.9 247.5 316.4 249.0 317.8 250.5 319.2 252.0 320.5 253.5 321.7 255.0 322.9 256.5 324.0 258.0 325.0 259.5 326.0 261.0 327.0 262.5 328.0 264.0 328.9 265.5 329.7 267.0 330.4 268.5 331.0 270.0 331.5 271.5 331.8 273.0 332.1 274.5 332.2 276.0 332.3 277.5 332.4 279.0 332.4 280.5 332.4 282.0 332.4 283.5 332.4 285.0 332.4 286.5 332.6 288.0 332.7 289.5 332.8 291.0 332.9 292.5 333.1 294.0 333.2 295.5 333.4 297.0 333.5 298.5 333.6 300.0 333.8 301.5 333.9 303.0 334.1 304.5 334.2 306.0 334.3 307.5 334.5 309.0 334.6 310.5 334.7 312.0 334.9 313.5 335.0 315.0 335.2 316.5 335.4 318.0 335.5 319.5 335.7 321.0 335.8 322.5 335.9 324.0 336.0 325.5 336.1 327.0 336.1 328.5 336.1 330.0 336.0 331.5 335.9 333.0 335.5 334.5 334.4 336.0 333.1 337.4 331.9" stroke="#d80a78" stroke-width="1.25" fill="none" clip-path="url(#clb)" stroke-linejoin="round"/>
<path d="M76.5 389.2 78.0 388.4 79.5 387.7 81.0 387.0 82.5 386.3 84.0 385.6 85.5 384.9 87.0 384.2 88.5 383.5 90.0 382.7 91.5 381.9 93.0 381.2 94.5 380.3 96.0 379.5 97.5 378.6 99.0 377.7 100.5 376.8 102.0 375.8 103.5 374.9 105.0 373.9 106.5 372.9 108.0 371.8 109.5 370.8 111.0 369.7 112.5 368.7 114.0 367.6 115.5 366.5 117.0 365.4 118.5 364.2 120.0 363.0 121.5 361.8 123.0 360.4 124.5 359.0 126.0 357.6 127.5 356.2 129.0 354.8 130.5 353.4 132.0 352.1 133.5 350.9 135.0 349.6 136.5 348.3 138.0 347.0 139.5 345.6 141.0 344.1 142.5 342.7 144.0 341.2 145.5 339.6 147.0 338.1 148.5 336.4 150.0 334.7 151.5 332.9 153.0 331.1 154.5 329.2 156.0 327.3 157.5 325.4 159.0 323.6 160.5 321.9 162.0 320.3 163.5 318.9 165.0 317.5 166.5 315.9 168.0 314.3 169.5 312.5 171.0 310.4 172.5 308.1 174.0 305.6 175.5 303.0 177.0 300.2 178.5 297.4 180.0 294.3 181.5 290.8 183.0 286.8 184.5 282.6 186.0 278.5 187.5 274.5 189.0 270.5 190.5 266.9 192.0 263.7 193.5 261.1 195.0 258.9 196.5 257.2 198.0 255.9 199.5 255.2 201.0 255.0 202.5 255.3 204.0 256.2 205.5 257.6 207.0 259.3 208.5 261.4 210.0 263.7 211.5 266.1 213.0 268.7 214.5 271.3 216.0 273.9 217.5 276.2 219.0 278.5 220.5 280.6 222.0 282.8 223.5 284.8 225.0 286.9 226.5 289.0 228.0 291.1 229.5 293.3 231.0 295.5 232.5 297.7 234.0 299.9 235.5 301.9 237.0 303.9 238.5 305.8 240.0 307.6 241.5 309.3 243.0 310.9 244.5 312.6 246.0 314.1 247.5 315.6 249.0 317.0 250.5 318.4 252.0 319.7 253.5 320.9 255.0 322.1 256.5 323.2 258.0 324.2 259.5 325.2 261.0 326.1 262.5 327.1 264.0 327.9 265.5 328.7 267.0 329.4 268.5 330.0 270.0 330.4 271.5 330.7 273.0 330.8 274.5 330.9 276.0 330.9 277.5 330.9 279.0 330.8 280.5 330.8 282.0 330.7 283.5 330.7 285.0 330.7 286.5 330.8 288.0 330.9 289.5 331.0 291.0 331.1 292.5 331.3 294.0 331.4 295.5 331.6 297.0 331.7 298.5 331.9 300.0 332.0 301.5 332.2 303.0 332.4 304.5 332.5 306.0 332.7 307.5 332.8 309.0 333.0 310.5 333.1 312.0 333.3 313.5 333.5 315.0 333.6 316.5 333.8 318.0 334.0 319.5 334.1 321.0 334.3 322.5 334.4 324.0 334.5 325.5 334.5 327.0 334.6 328.5 334.6 330.0 334.5 331.5 334.3 333.0 333.9 334.5 332.9 336.0 331.6 337.4 330.5" stroke="#b808a8" stroke-width="1.25" fill="none" clip-path="url(#clb)" stroke-linejoin="round"/>
<path d="M76.5 382.9 78.0 382.2 79.5 381.6 81.0 380.9 82.5 380.3 84.0 379.7 85.5 379.1 87.0 378.4 88.5 377.8 90.0 377.1 91.5 376.5 93.0 375.7 94.5 375.0 96.0 374.2 97.5 373.4 99.0 372.6 100.5 371.7 102.0 370.8 103.5 369.9 105.0 368.9 106.5 367.9 108.0 367.0 109.5 366.0 111.0 364.9 112.5 363.9 114.0 362.8 115.5 361.8 117.0 360.7 118.5 359.6 120.0 358.4 121.5 357.1 123.0 355.7 124.5 354.3 126.0 352.9 127.5 351.5 129.0 350.1 130.5 348.8 132.0 347.6 133.5 346.4 135.0 345.2 136.5 344.0 138.0 342.8 139.5 341.4 141.0 340.1 142.5 338.7 144.0 337.3 145.5 335.8 147.0 334.3 148.5 332.8 150.0 331.2 151.5 329.5 153.0 327.6 154.5 325.8 156.0 323.9 157.5 322.0 159.0 320.2 160.5 318.6 162.0 317.1 163.5 315.9 165.0 314.6 166.5 313.1 168.0 311.6 169.5 309.9 171.0 308.0 172.5 305.8 174.0 303.4 175.5 300.8 177.0 298.1 178.5 295.3 180.0 292.2 181.5 288.7 183.0 284.7 184.5 280.6 186.0 276.4 187.5 272.3 189.0 268.3 190.5 264.6 192.0 261.3 193.5 258.7 195.0 256.6 196.5 255.0 198.0 253.8 199.5 253.1 201.0 252.9 202.5 253.3 204.0 254.2 205.5 255.7 207.0 257.5 208.5 259.6 210.0 262.0 211.5 264.5 213.0 267.1 214.5 269.9 216.0 272.5 217.5 274.8 219.0 277.1 220.5 279.2 222.0 281.3 223.5 283.4 225.0 285.3 226.5 287.4 228.0 289.4 229.5 291.6 231.0 293.8 232.5 295.9 234.0 298.1 235.5 300.1 237.0 302.0 238.5 303.9 240.0 305.6 241.5 307.3 243.0 308.9 244.5 310.5 246.0 312.0 247.5 313.5 249.0 314.9 250.5 316.2 252.0 317.4 253.5 318.6 255.0 319.7 256.5 320.7 258.0 321.7 259.5 322.6 261.0 323.4 262.5 324.2 264.0 325.0 265.5 325.7 267.0 326.2 268.5 326.6 270.0 326.9 271.5 327.0 273.0 326.9 274.5 326.8 276.0 326.5 277.5 326.2 279.0 325.9 280.5 325.6 282.0 325.4 283.5 325.2 285.0 325.1 286.5 325.1 288.0 325.1 289.5 325.2 291.0 325.4 292.5 325.5 294.0 325.7 295.5 325.9 297.0 326.1 298.5 326.2 300.0 326.4 301.5 326.6 303.0 326.9 304.5 327.1 306.0 327.3 307.5 327.5 309.0 327.7 310.5 327.9 312.0 328.1 313.5 328.3 315.0 328.5 316.5 328.7 318.0 328.9 319.5 329.1 321.0 329.2 322.5 329.3 324.0 329.4 325.5 329.5 327.0 329.6 328.5 329.6 330.0 329.5 331.5 329.4 333.0 329.0 334.5 328.1 336.0 327.0 337.4 326.1" stroke="#8a10d0" stroke-width="1.25" fill="none" clip-path="url(#clb)" stroke-linejoin="round"/>
<path d="M76.5 380.6 78.0 380.0 79.5 379.4 81.0 378.8 82.5 378.2 84.0 377.6 85.5 377.0 87.0 376.4 88.5 375.8 90.0 375.1 91.5 374.5 93.0 373.8 94.5 373.1 96.0 372.3 97.5 371.5 99.0 370.7 100.5 369.8 102.0 369.0 103.5 368.0 105.0 367.1 106.5 366.2 108.0 365.2 109.5 364.2 111.0 363.2 112.5 362.1 114.0 361.1 115.5 360.0 117.0 358.9 118.5 357.8 120.0 356.6 121.5 355.3 123.0 354.0 124.5 352.6 126.0 351.1 127.5 349.7 129.0 348.4 130.5 347.1 132.0 345.9 133.5 344.7 135.0 343.6 136.5 342.4 138.0 341.2 139.5 339.9 141.0 338.5 142.5 337.2 144.0 335.8 145.5 334.4 147.0 332.9 148.5 331.4 150.0 329.8 151.5 328.1 153.0 326.3 154.5 324.4 156.0 322.6 157.5 320.7 159.0 318.9 160.5 317.3 162.0 315.9 163.5 314.7 165.0 313.4 166.5 312.0 168.0 310.5 169.5 308.9 171.0 307.0 172.5 304.8 174.0 302.5 175.5 299.9 177.0 297.2 178.5 294.4 180.0 291.3 181.5 287.8 183.0 283.8 184.5 279.6 186.0 275.4 187.5 271.2 189.0 267.0 190.5 263.3 192.0 259.9 193.5 257.1 195.0 254.9 196.5 253.2 198.0 252.0 199.5 251.3 201.0 251.1 202.5 251.5 204.0 252.4 205.5 254.0 207.0 256.0 208.5 258.2 210.0 260.6 211.5 263.2 213.0 265.9 214.5 268.8 216.0 271.4 217.5 273.8 219.0 276.1 220.5 278.3 222.0 280.4 223.5 282.4 225.0 284.3 226.5 286.3 228.0 288.4 229.5 290.5 231.0 292.7 232.5 294.9 234.0 297.0 235.5 299.0 237.0 301.0 238.5 302.8 240.0 304.5 241.5 306.2 243.0 307.8 244.5 309.4 246.0 310.9 247.5 312.4 249.0 313.7 250.5 315.0 252.0 316.3 253.5 317.4 255.0 318.5 256.5 319.5 258.0 320.4 259.5 321.3 261.0 322.1 262.5 322.9 264.0 323.6 265.5 324.2 267.0 324.7 268.5 325.0 270.0 325.2 271.5 325.2 273.0 325.1 274.5 324.8 276.0 324.4 277.5 324.0 279.0 323.6 280.5 323.2 282.0 322.8 283.5 322.5 285.0 322.4 286.5 322.4 288.0 322.4 289.5 322.5 291.0 322.6 292.5 322.8 294.0 323.0 295.5 323.2 297.0 323.4 298.5 323.6 300.0 323.8 301.5 324.0 303.0 324.2 304.5 324.5 306.0 324.8 307.5 325.0 309.0 325.3 310.5 325.5 312.0 325.7 313.5 325.9 315.0 326.1 316.5 326.3 318.0 326.5 319.5 326.7 321.0 326.8 322.5 326.9 324.0 327.0 325.5 327.2 327.0 327.2 328.5 327.2 330.0 327.2 331.5 327.0 333.0 326.6 334.5 325.8 336.0 324.8 337.4 324.0" stroke="#7a18d8" stroke-width="1.25" fill="none" clip-path="url(#clb)" stroke-linejoin="round"/>
<path d="M76.5 385.2 78.0 384.6 79.5 383.9 81.0 383.3 82.5 382.6 84.0 382.0 85.5 381.3 87.0 380.6 88.5 380.0 90.0 379.3 91.5 378.5 93.0 377.8 94.5 377.0 96.0 376.2 97.5 375.4 99.0 374.5 100.5 373.6 102.0 372.7 103.5 371.8 105.0 370.8 106.5 369.8 108.0 368.8 109.5 367.8 111.0 366.8 112.5 365.7 114.0 364.6 115.5 363.6 117.0 362.5 118.5 361.3 120.0 360.1 121.5 358.9 123.0 357.5 124.5 356.1 126.0 354.7 127.5 353.3 129.0 351.9 130.5 350.6 132.0 349.3 133.5 348.1 135.0 346.9 136.5 345.6 138.0 344.4 139.5 343.0 141.0 341.6 142.5 340.2 144.0 338.8 145.5 337.3 147.0 335.8 148.5 334.2 150.0 332.5 151.5 330.8 153.0 329.0 154.5 327.1 156.0 325.2 157.5 323.3 159.0 321.5 160.5 319.8 162.0 318.4 163.5 317.0 165.0 315.6 166.5 314.1 168.0 312.5 169.5 310.7 171.0 308.7 172.5 306.4 174.0 304.0 175.5 301.3 177.0 298.6 178.5 295.8 180.0 292.7 181.5 289.1 183.0 284.9 184.5 280.4 186.0 275.8 187.5 271.1 189.0 266.2 190.5 261.4 192.0 256.9 193.5 253.0 195.0 249.8 196.5 247.2 198.0 245.3 199.5 244.2 201.0 244.0 202.5 244.6 204.0 245.8 205.5 247.9 207.0 250.4 208.5 253.1 210.0 256.1 211.5 259.2 213.0 262.3 214.5 265.5 216.0 268.5 217.5 271.1 219.0 273.6 220.5 276.0 222.0 278.3 223.5 280.4 225.0 282.5 226.5 284.6 228.0 286.9 229.5 289.2 231.0 291.5 232.5 293.9 234.0 296.2 235.5 298.4 237.0 300.5 238.5 302.5 240.0 304.4 241.5 306.2 243.0 308.0 244.5 309.7 246.0 311.4 247.5 313.0 249.0 314.5 250.5 315.9 252.0 317.3 253.5 318.6 255.0 319.8 256.5 320.9 258.0 322.0 259.5 323.0 261.0 324.0 262.5 324.9 264.0 325.8 265.5 326.6 267.0 327.3 268.5 327.8 270.0 328.2 271.5 328.5 273.0 328.6 274.5 328.6 276.0 328.6 277.5 328.4 279.0 328.3 280.5 328.1 282.0 328.0 283.5 327.9 285.0 327.9 286.5 327.9 288.0 328.0 289.5 328.1 291.0 328.3 292.5 328.4 294.0 328.6 295.5 328.8 297.0 328.9 298.5 329.1 300.0 329.3 301.5 329.4 303.0 329.6 304.5 329.8 306.0 330.0 307.5 330.2 309.0 330.4 310.5 330.6 312.0 330.8 313.5 331.0 315.0 331.2 316.5 331.3 318.0 331.5 319.5 331.7 321.0 331.8 322.5 331.9 324.0 332.1 325.5 332.1 327.0 332.2 328.5 332.2 330.0 332.1 331.5 332.0 333.0 331.6 334.5 330.6 336.0 329.4 337.4 328.4" stroke="#5a18c4" stroke-width="1.38" fill="none" clip-path="url(#clb)" stroke-linejoin="round"/>
<path d="M76.5 386.6 78.0 385.9 79.5 385.2 81.0 384.6 82.5 383.9 84.0 383.2 85.5 382.5 87.0 381.9 88.5 381.2 90.0 380.5 91.5 379.7 93.0 379.0 94.5 378.2 96.0 377.3 97.5 376.5 99.0 375.6 100.5 374.7 102.0 373.8 103.5 372.8 105.0 371.8 106.5 370.9 108.0 369.8 109.5 368.8 111.0 367.8 112.5 366.7 114.0 365.6 115.5 364.5 117.0 363.4 118.5 362.3 120.0 361.1 121.5 359.8 123.0 358.5 124.5 357.1 126.0 355.7 127.5 354.2 129.0 352.9 130.5 351.5 132.0 350.2 133.5 349.0 135.0 347.8 136.5 346.5 138.0 345.2 139.5 343.8 141.0 342.4 142.5 341.0 144.0 339.5 145.5 338.0 147.0 336.5 148.5 334.9 150.0 333.2 151.5 331.5 153.0 329.6 154.5 327.7 156.0 325.8 157.5 323.9 159.0 322.1 160.5 320.5 162.0 319.0 163.5 317.6 165.0 316.2 166.5 314.7 168.0 313.0 169.5 311.2 171.0 309.2 172.5 306.9 174.0 304.5 175.5 301.8 177.0 299.1 178.5 296.2 180.0 293.1 181.5 289.5 183.0 285.3 184.5 280.7 186.0 276.0 187.5 271.1 189.0 266.0 190.5 261.0 192.0 256.3 193.5 252.2 195.0 248.9 196.5 246.2 198.0 244.2 199.5 243.1 201.0 242.9 202.5 243.4 204.0 244.8 205.5 246.9 207.0 249.5 208.5 252.3 210.0 255.3 211.5 258.4 213.0 261.6 214.5 264.9 216.0 267.9 217.5 270.6 219.0 273.1 220.5 275.5 222.0 277.8 223.5 279.9 225.0 282.0 226.5 284.2 228.0 286.4 229.5 288.7 231.0 291.1 232.5 293.5 234.0 295.8 235.5 298.0 237.0 300.1 238.5 302.1 240.0 304.0 241.5 305.9 243.0 307.7 244.5 309.4 246.0 311.1 247.5 312.7 249.0 314.2 250.5 315.6 252.0 317.0 253.5 318.3 255.0 319.5 256.5 320.7 258.0 321.7 259.5 322.7 261.0 323.7 262.5 324.7 264.0 325.5 265.5 326.3 267.0 327.0 268.5 327.6 270.0 328.0 271.5 328.2 273.0 328.3 274.5 328.3 276.0 328.2 277.5 328.1 279.0 327.9 280.5 327.8 282.0 327.6 283.5 327.5 285.0 327.5 286.5 327.5 288.0 327.6 289.5 327.7 291.0 327.9 292.5 328.0 294.0 328.2 295.5 328.4 297.0 328.5 298.5 328.7 300.0 328.9 301.5 329.1 303.0 329.3 304.5 329.5 306.0 329.7 307.5 329.9 309.0 330.1 310.5 330.3 312.0 330.5 313.5 330.7 315.0 330.9 316.5 331.1 318.0 331.2 319.5 331.4 321.0 331.6 322.5 331.7 324.0 331.8 325.5 331.9 327.0 331.9 328.5 331.9 330.0 331.9 331.5 331.7 333.0 331.3 334.5 330.4 336.0 329.2 337.4 328.2" stroke="#4418b8" stroke-width="1.38" fill="none" clip-path="url(#clb)" stroke-linejoin="round"/>
<path d="M76.5 387.4 78.0 386.7 79.5 386.0 81.0 385.3 82.5 384.6 84.0 383.9 85.5 383.2 87.0 382.5 88.5 381.8 90.0 381.1 91.5 380.4 93.0 379.6 94.5 378.8 96.0 378.0 97.5 377.1 99.0 376.2 100.5 375.3 102.0 374.4 103.5 373.4 105.0 372.4 106.5 371.4 108.0 370.4 109.5 369.4 111.0 368.3 112.5 367.3 114.0 366.2 115.5 365.1 117.0 364.0 118.5 362.9 120.0 361.7 121.5 360.4 123.0 359.0 124.5 357.6 126.0 356.2 127.5 354.8 129.0 353.4 130.5 352.1 132.0 350.8 133.5 349.5 135.0 348.3 136.5 347.0 138.0 345.7 139.5 344.3 141.0 342.9 142.5 341.5 144.0 340.0 145.5 338.5 147.0 336.9 148.5 335.3 150.0 333.6 151.5 331.9 153.0 330.0 154.5 328.1 156.0 326.2 157.5 324.3 159.0 322.5 160.5 320.8 162.0 319.3 163.5 318.0 165.0 316.5 166.5 315.0 168.0 313.3 169.5 311.5 171.0 309.4 172.5 307.2 174.0 304.7 175.5 302.0 177.0 299.2 178.5 296.4 180.0 293.3 181.5 289.7 183.0 285.4 184.5 280.7 186.0 275.9 187.5 270.9 189.0 265.6 190.5 260.4 192.0 255.5 193.5 251.3 195.0 247.9 196.5 245.1 198.0 243.1 199.5 241.9 201.0 241.7 202.5 242.3 204.0 243.7 205.5 245.9 207.0 248.5 208.5 251.4 210.0 254.5 211.5 257.7 213.0 260.9 214.5 264.3 216.0 267.3 217.5 270.1 219.0 272.6 220.5 275.0 222.0 277.3 223.5 279.5 225.0 281.6 226.5 283.7 228.0 286.0 229.5 288.4 231.0 290.7 232.5 293.1 234.0 295.5 235.5 297.7 237.0 299.8 238.5 301.8 240.0 303.8 241.5 305.7 243.0 307.5 244.5 309.3 246.0 310.9 247.5 312.5 249.0 314.1 250.5 315.6 252.0 316.9 253.5 318.3 255.0 319.5 256.5 320.7 258.0 321.8 259.5 322.8 261.0 323.8 262.5 324.7 264.0 325.6 265.5 326.5 267.0 327.2 268.5 327.7 270.0 328.1 271.5 328.4 273.0 328.5 274.5 328.6 276.0 328.5 277.5 328.4 279.0 328.3 280.5 328.1 282.0 328.0 283.5 327.9 285.0 327.9 286.5 327.9 288.0 328.0 289.5 328.1 291.0 328.2 292.5 328.4 294.0 328.5 295.5 328.7 297.0 328.9 298.5 329.0 300.0 329.2 301.5 329.3 303.0 329.5 304.5 329.7 306.0 329.9 307.5 330.0 309.0 330.2 310.5 330.4 312.0 330.5 313.5 330.7 315.0 330.9 316.5 331.0 318.0 331.2 319.5 331.3 321.0 331.5 322.5 331.6 324.0 331.7 325.5 331.7 327.0 331.8 328.5 331.8 330.0 331.7 331.5 331.5 333.0 331.1 334.5 330.2 336.0 329.0 337.4 328.0" stroke="#2a1aa4" stroke-width="1.5" fill="none" clip-path="url(#clb)" stroke-linejoin="round"/>
<path d="M76.5 581.0 78.0 580.0 79.5 579.1 81.0 578.1 82.5 577.2 84.0 576.2 85.5 575.2 87.0 574.3 88.5 573.3 90.0 572.4 91.5 571.4 93.0 570.5 94.5 569.6 96.0 568.7 97.5 567.8 99.0 566.9 100.5 566.1 102.0 565.3 103.5 564.5 105.0 563.7 106.5 563.0 108.0 562.2 109.5 561.4 111.0 560.6 112.5 559.8 114.0 559.0 115.5 558.1 117.0 557.2 118.5 556.2 120.0 555.3 121.5 554.3 123.0 553.3 124.5 552.2 126.0 551.2 127.5 550.1 129.0 549.1 130.5 547.9 132.0 546.8 133.5 545.6 135.0 544.4 136.5 543.2 138.0 541.9 139.5 540.5 141.0 539.1 142.5 537.6 144.0 536.1 145.5 534.4 147.0 532.6 148.5 530.8 150.0 528.9 151.5 527.0 153.0 525.1 154.5 523.1 156.0 521.2 157.5 519.2 159.0 517.1 160.5 514.9 162.0 512.8 163.5 510.5 165.0 508.3 166.5 506.1 168.0 503.9 169.5 501.7 171.0 499.5 172.5 497.4 174.0 495.2 175.5 493.0 177.0 490.7 178.5 488.4 180.0 485.9 181.5 483.3 183.0 480.5 184.5 477.6 186.0 474.7 187.5 471.8 189.0 469.0 190.5 466.2 192.0 463.6 193.5 461.2 195.0 459.1 196.5 457.2 198.0 455.7 199.5 454.5 201.0 453.5 202.5 452.9 204.0 452.5 205.5 452.6 207.0 453.1 208.5 453.9 210.0 454.8 211.5 455.9 213.0 457.0 214.5 458.1 216.0 459.1 217.5 460.0 219.0 461.0 220.5 461.9 222.0 462.8 223.5 463.8 225.0 464.7 226.5 465.7 228.0 466.6 229.5 467.5 231.0 468.4 232.5 469.3 234.0 470.1 235.5 470.9 237.0 471.7 238.5 472.5 240.0 473.3 241.5 474.1 243.0 474.9 244.5 475.6 246.0 476.3 247.5 477.1 249.0 477.8 250.5 478.4 252.0 479.1 253.5 479.7 255.0 480.2 256.5 480.8 258.0 481.2 259.5 481.7 261.0 482.1 262.5 482.4 264.0 482.7 265.5 483.0 267.0 483.2 268.5 483.5 270.0 483.6 271.5 483.8 273.0 484.0 274.5 484.1 276.0 484.3 277.5 484.4 279.0 484.5 280.5 484.7 282.0 484.8 283.5 484.9 285.0 485.0 286.5 485.1 288.0 485.1 289.5 485.2 291.0 485.2 292.5 485.2 294.0 485.3 295.5 485.3 297.0 485.4 298.5 485.5 300.0 485.5 301.5 485.7 303.0 485.8 304.5 486.0 306.0 486.2 307.5 486.4 309.0 486.6 310.5 486.8 312.0 487.0 313.5 487.2 315.0 487.3 316.5 487.5 318.0 487.6 319.5 487.6 321.0 487.6 322.5 487.5 324.0 487.3 325.5 486.9 327.0 486.5 328.5 486.1 330.0 485.6 331.5 485.0 333.0 484.5 334.5 483.9 336.0 483.4 337.4 483.0" stroke="#ff1010" stroke-width="1.25" fill="none" clip-path="url(#clc)" stroke-linejoin="round"/>
<path d="M76.5 564.1 78.0 563.2 79.5 562.5 81.0 561.8 82.5 561.1 84.0 560.5 85.5 559.9 87.0 559.3 88.5 558.7 90.0 558.1 91.5 557.5 93.0 556.9 94.5 556.2 96.0 555.5 97.5 554.7 99.0 553.9 100.5 553.0 102.0 552.2 103.5 551.4 105.0 550.6 106.5 549.8 108.0 549.1 109.5 548.4 111.0 547.7 112.5 547.0 114.0 546.3 115.5 545.6 117.0 544.9 118.5 544.2 120.0 543.4 121.5 542.7 123.0 541.9 124.5 541.0 126.0 540.2 127.5 539.3 129.0 538.3 130.5 537.3 132.0 536.3 133.5 535.2 135.0 534.0 136.5 532.7 138.0 531.4 139.5 530.0 141.0 528.6 142.5 527.2 144.0 525.6 145.5 524.1 147.0 522.4 148.5 520.8 150.0 519.1 151.5 517.4 153.0 515.6 154.5 513.9 156.0 512.1 157.5 510.4 159.0 508.5 160.5 506.7 162.0 504.7 163.5 502.7 165.0 500.6 166.5 498.5 168.0 496.3 169.5 494.1 171.0 491.8 172.5 489.6 174.0 487.3 175.5 484.9 177.0 482.4 178.5 479.8 180.0 477.1 181.5 474.3 183.0 471.2 184.5 467.9 186.0 464.6 187.5 461.4 189.0 458.4 190.5 455.6 192.0 453.0 193.5 450.6 195.0 448.8 196.5 447.4 198.0 446.3 199.5 445.5 201.0 444.9 202.5 444.8 204.0 445.0 205.5 445.7 207.0 446.7 208.5 447.9 210.0 449.2 211.5 450.6 213.0 452.0 214.5 453.2 216.0 454.4 217.5 455.4 219.0 456.4 220.5 457.4 222.0 458.4 223.5 459.4 225.0 460.5 226.5 461.5 228.0 462.6 229.5 463.7 231.0 464.7 232.5 465.7 234.0 466.8 235.5 467.8 237.0 468.7 238.5 469.7 240.0 470.6 241.5 471.5 243.0 472.4 244.5 473.3 246.0 474.2 247.5 475.0 249.0 475.8 250.5 476.5 252.0 477.2 253.5 477.9 255.0 478.5 256.5 479.0 258.0 479.5 259.5 480.0 261.0 480.3 262.5 480.7 264.0 481.0 265.5 481.3 267.0 481.5 268.5 481.7 270.0 481.9 271.5 482.1 273.0 482.3 274.5 482.5 276.0 482.6 277.5 482.8 279.0 483.0 280.5 483.1 282.0 483.3 283.5 483.5 285.0 483.6 286.5 483.7 288.0 483.8 289.5 483.9 291.0 484.0 292.5 484.1 294.0 484.2 295.5 484.3 297.0 484.4 298.5 484.5 300.0 484.7 301.5 484.8 303.0 485.0 304.5 485.2 306.0 485.4 307.5 485.7 309.0 485.9 310.5 486.2 312.0 486.4 313.5 486.6 315.0 486.8 316.5 486.9 318.0 487.0 319.5 487.1 321.0 487.1 322.5 487.0 324.0 486.7 325.5 486.4 327.0 486.0 328.5 485.6 330.0 485.1 331.5 484.5 333.0 484.0 334.5 483.4 336.0 482.9 337.4 482.5" stroke="#ff1030" stroke-width="1.25" fill="none" clip-path="url(#clc)" stroke-linejoin="round"/>
<path d="M76.5 563.9 78.0 563.0 79.5 562.3 81.0 561.5 82.5 560.9 84.0 560.2 85.5 559.6 87.0 559.0 88.5 558.4 90.0 557.8 91.5 557.1 93.0 556.5 94.5 555.8 96.0 555.1 97.5 554.3 99.0 553.5 100.5 552.6 102.0 551.8 103.5 550.9 105.0 550.1 106.5 549.4 108.0 548.6 109.5 547.9 111.0 547.2 112.5 546.5 114.0 545.7 115.5 545.0 117.0 544.3 118.5 543.5 120.0 542.7 121.5 541.9 123.0 541.1 124.5 540.2 126.0 539.3 127.5 538.4 129.0 537.4 130.5 536.4 132.0 535.3 133.5 534.2 135.0 533.0 136.5 531.7 138.0 530.4 139.5 529.0 141.0 527.6 142.5 526.2 144.0 524.7 145.5 523.1 147.0 521.5 148.5 519.8 150.0 518.1 151.5 516.4 153.0 514.7 154.5 513.0 156.0 511.3 157.5 509.5 159.0 507.7 160.5 505.8 162.0 503.9 163.5 501.9 165.0 499.9 166.5 497.7 168.0 495.5 169.5 493.3 171.0 491.1 172.5 488.8 174.0 486.5 175.5 484.1 177.0 481.7 178.5 479.2 180.0 476.5 181.5 473.7 183.0 470.5 184.5 467.1 186.0 463.8 187.5 460.6 189.0 457.5 190.5 454.7 192.0 452.0 193.5 449.6 195.0 447.7 196.5 446.4 198.0 445.3 199.5 444.5 201.0 444.0 202.5 443.9 204.0 444.1 205.5 444.9 207.0 445.9 208.5 447.1 210.0 448.5 211.5 449.9 213.0 451.2 214.5 452.5 216.0 453.7 217.5 454.7 219.0 455.7 220.5 456.7 222.0 457.7 223.5 458.8 225.0 459.8 226.5 460.9 228.0 462.0 229.5 463.0 231.0 464.1 232.5 465.2 234.0 466.2 235.5 467.2 237.0 468.2 238.5 469.2 240.0 470.1 241.5 471.0 243.0 472.0 244.5 472.9 246.0 473.7 247.5 474.5 249.0 475.3 250.5 476.1 252.0 476.8 253.5 477.5 255.0 478.1 256.5 478.6 258.0 479.1 259.5 479.5 261.0 479.9 262.5 480.2 264.0 480.5 265.5 480.8 267.0 481.0 268.5 481.3 270.0 481.5 271.5 481.6 273.0 481.8 274.5 482.0 276.0 482.1 277.5 482.3 279.0 482.5 280.5 482.7 282.0 482.8 283.5 483.0 285.0 483.1 286.5 483.2 288.0 483.3 289.5 483.4 291.0 483.5 292.5 483.6 294.0 483.7 295.5 483.8 297.0 483.9 298.5 484.0 300.0 484.2 301.5 484.3 303.0 484.5 304.5 484.7 306.0 485.0 307.5 485.2 309.0 485.4 310.5 485.7 312.0 485.9 313.5 486.1 315.0 486.3 316.5 486.4 318.0 486.5 319.5 486.6 321.0 486.6 322.5 486.5 324.0 486.2 325.5 485.9 327.0 485.5 328.5 485.1 330.0 484.6 331.5 484.0 333.0 483.5 334.5 482.9 336.0 482.4 337.4 482.0" stroke="#f0104a" stroke-width="1.25" fill="none" clip-path="url(#clc)" stroke-linejoin="round"/>
<path d="M76.5 563.5 78.0 562.6 79.5 561.8 81.0 561.1 82.5 560.4 84.0 559.8 85.5 559.2 87.0 558.6 88.5 558.0 90.0 557.4 91.5 556.7 93.0 556.1 94.5 555.4 96.0 554.7 97.5 553.9 99.0 553.1 100.5 552.2 102.0 551.3 103.5 550.5 105.0 549.7 106.5 548.9 108.0 548.1 109.5 547.4 111.0 546.6 112.5 545.9 114.0 545.1 115.5 544.4 117.0 543.6 118.5 542.8 120.0 542.0 121.5 541.1 123.0 540.3 124.5 539.4 126.0 538.5 127.5 537.5 129.0 536.5 130.5 535.5 132.0 534.4 133.5 533.2 135.0 532.0 136.5 530.7 138.0 529.4 139.5 528.1 141.0 526.7 142.5 525.2 144.0 523.7 145.5 522.2 147.0 520.6 148.5 518.9 150.0 517.3 151.5 515.6 153.0 513.9 154.5 512.2 156.0 510.5 157.5 508.8 159.0 507.0 160.5 505.2 162.0 503.3 163.5 501.3 165.0 499.3 166.5 497.1 168.0 495.0 169.5 492.7 171.0 490.5 172.5 488.2 174.0 485.9 175.5 483.5 177.0 481.1 178.5 478.6 180.0 475.9 181.5 473.0 183.0 469.8 184.5 466.4 186.0 463.0 187.5 459.7 189.0 456.6 190.5 453.6 192.0 450.8 193.5 448.3 195.0 446.4 196.5 445.0 198.0 443.9 199.5 443.2 201.0 442.7 202.5 442.6 204.0 443.0 205.5 443.7 207.0 444.9 208.5 446.1 210.0 447.5 211.5 448.9 213.0 450.3 214.5 451.6 216.0 452.7 217.5 453.7 219.0 454.8 220.5 455.8 222.0 456.8 223.5 457.9 225.0 459.0 226.5 460.0 228.0 461.1 229.5 462.2 231.0 463.3 232.5 464.4 234.0 465.5 235.5 466.5 237.0 467.6 238.5 468.5 240.0 469.5 241.5 470.5 243.0 471.4 244.5 472.3 246.0 473.2 247.5 474.1 249.0 474.9 250.5 475.6 252.0 476.3 253.5 477.0 255.0 477.6 256.5 478.2 258.0 478.7 259.5 479.1 261.0 479.5 262.5 479.8 264.0 480.1 265.5 480.4 267.0 480.6 268.5 480.8 270.0 481.0 271.5 481.2 273.0 481.3 274.5 481.5 276.0 481.7 277.5 481.8 279.0 482.0 280.5 482.2 282.0 482.3 283.5 482.5 285.0 482.6 286.5 482.7 288.0 482.8 289.5 482.9 291.0 483.0 292.5 483.1 294.0 483.2 295.5 483.3 297.0 483.4 298.5 483.6 300.0 483.7 301.5 483.8 303.0 484.0 304.5 484.2 306.0 484.5 307.5 484.7 309.0 484.9 310.5 485.2 312.0 485.4 313.5 485.6 315.0 485.8 316.5 485.9 318.0 486.0 319.5 486.1 321.0 486.0 322.5 486.0 324.0 485.7 325.5 485.4 327.0 485.0 328.5 484.6 330.0 484.1 331.5 483.5 333.0 483.0 334.5 482.4 336.0 481.9 337.4 481.5" stroke="#d80a78" stroke-width="1.25" fill="none" clip-path="url(#clc)" stroke-linejoin="round"/>
<path d="M76.5 563.2 78.0 562.4 79.5 561.6 81.0 560.9 82.5 560.2 84.0 559.5 85.5 558.9 87.0 558.3 88.5 557.7 90.0 557.0 91.5 556.4 93.0 555.7 94.5 555.0 96.0 554.3 97.5 553.5 99.0 552.7 100.5 551.8 102.0 550.9 103.5 550.1 105.0 549.3 106.5 548.5 108.0 547.7 109.5 546.9 111.0 546.1 112.5 545.3 114.0 544.6 115.5 543.8 117.0 542.9 118.5 542.1 120.0 541.3 121.5 540.4 123.0 539.5 124.5 538.6 126.0 537.6 127.5 536.7 129.0 535.6 130.5 534.6 132.0 533.5 133.5 532.3 135.0 531.1 136.5 529.8 138.0 528.4 139.5 527.1 141.0 525.7 142.5 524.3 144.0 522.8 145.5 521.2 147.0 519.7 148.5 518.1 150.0 516.4 151.5 514.8 153.0 513.1 154.5 511.4 156.0 509.7 157.5 508.1 159.0 506.3 160.5 504.5 162.0 502.7 163.5 500.7 165.0 498.7 166.5 496.6 168.0 494.4 169.5 492.2 171.0 489.9 172.5 487.6 174.0 485.3 175.5 482.9 177.0 480.5 178.5 477.9 180.0 475.2 181.5 472.4 183.0 469.2 184.5 465.7 186.0 462.2 187.5 458.9 189.0 455.7 190.5 452.7 192.0 449.8 193.5 447.3 195.0 445.4 196.5 444.0 198.0 442.9 199.5 442.2 201.0 441.7 202.5 441.7 204.0 442.1 205.5 442.9 207.0 444.1 208.5 445.3 210.0 446.7 211.5 448.1 213.0 449.5 214.5 450.9 216.0 452.0 217.5 453.0 219.0 454.1 220.5 455.1 222.0 456.2 223.5 457.2 225.0 458.3 226.5 459.4 228.0 460.5 229.5 461.6 231.0 462.7 232.5 463.8 234.0 464.9 235.5 466.0 237.0 467.0 238.5 468.0 240.0 469.0 241.5 470.0 243.0 470.9 244.5 471.9 246.0 472.8 247.5 473.6 249.0 474.4 250.5 475.2 252.0 475.9 253.5 476.6 255.0 477.2 256.5 477.7 258.0 478.2 259.5 478.7 261.0 479.0 262.5 479.4 264.0 479.6 265.5 479.9 267.0 480.1 268.5 480.4 270.0 480.5 271.5 480.7 273.0 480.9 274.5 481.0 276.0 481.2 277.5 481.3 279.0 481.5 280.5 481.7 282.0 481.8 283.5 482.0 285.0 482.1 286.5 482.2 288.0 482.3 289.5 482.4 291.0 482.5 292.5 482.6 294.0 482.7 295.5 482.8 297.0 483.0 298.5 483.1 300.0 483.2 301.5 483.4 303.0 483.5 304.5 483.7 306.0 484.0 307.5 484.2 309.0 484.5 310.5 484.7 312.0 484.9 313.5 485.1 315.0 485.3 316.5 485.4 318.0 485.5 319.5 485.6 321.0 485.5 322.5 485.4 324.0 485.2 325.5 484.9 327.0 484.5 328.5 484.1 330.0 483.6 331.5 483.0 333.0 482.5 334.5 481.9 336.0 481.4 337.4 481.0" stroke="#c008a0" stroke-width="1.25" fill="none" clip-path="url(#clc)" stroke-linejoin="round"/>
<path d="M76.5 566.0 78.0 565.1 79.5 564.2 81.0 563.4 82.5 562.5 84.0 561.6 85.5 560.7 87.0 559.8 88.5 558.9 90.0 558.0 91.5 557.1 93.0 556.2 94.5 555.3 96.0 554.4 97.5 553.5 99.0 552.6 100.5 551.7 102.0 550.7 103.5 549.8 105.0 548.9 106.5 548.0 108.0 547.0 109.5 546.1 111.0 545.1 112.5 544.1 114.0 543.1 115.5 542.1 117.0 541.0 118.5 540.0 120.0 538.9 121.5 537.8 123.0 536.6 124.5 535.5 126.0 534.3 127.5 533.2 129.0 532.0 130.5 530.7 132.0 529.5 133.5 528.2 135.0 526.9 136.5 525.6 138.0 524.3 139.5 522.9 141.0 521.5 142.5 520.0 144.0 518.5 145.5 516.9 147.0 515.3 148.5 513.7 150.0 512.1 151.5 510.4 153.0 508.7 154.5 507.1 156.0 505.4 157.5 503.7 159.0 502.1 160.5 500.3 162.0 498.5 163.5 496.6 165.0 494.6 166.5 492.5 168.0 490.3 169.5 488.0 171.0 485.7 172.5 483.4 174.0 481.0 175.5 478.6 177.0 476.1 178.5 473.4 180.0 470.6 181.5 467.7 183.0 464.1 184.5 459.9 186.0 455.6 187.5 451.3 189.0 446.8 190.5 442.5 192.0 438.3 193.5 434.3 195.0 431.3 196.5 429.4 198.0 428.2 199.5 427.6 201.0 427.7 202.5 428.2 204.0 429.1 205.5 430.3 207.0 431.7 208.5 433.2 210.0 434.7 211.5 436.2 213.0 437.7 214.5 439.1 216.0 440.5 217.5 441.7 219.0 442.9 220.5 444.0 222.0 445.1 223.5 446.1 225.0 447.2 226.5 448.3 228.0 449.4 229.5 450.6 231.0 451.7 232.5 452.8 234.0 453.9 235.5 455.0 237.0 456.0 238.5 457.0 240.0 458.0 241.5 458.9 243.0 459.8 244.5 460.6 246.0 461.4 247.5 462.2 249.0 462.9 250.5 463.6 252.0 464.2 253.5 464.8 255.0 465.3 256.5 465.8 258.0 466.2 259.5 466.5 261.0 466.8 262.5 467.0 264.0 467.2 265.5 467.4 267.0 467.5 268.5 467.6 270.0 467.8 271.5 467.9 273.0 467.9 274.5 468.0 276.0 468.1 277.5 468.2 279.0 468.3 280.5 468.5 282.0 468.6 283.5 468.8 285.0 469.0 286.5 469.1 288.0 469.3 289.5 469.5 291.0 469.6 292.5 469.8 294.0 470.0 295.5 470.1 297.0 470.3 298.5 470.5 300.0 470.7 301.5 470.8 303.0 471.0 304.5 471.3 306.0 471.5 307.5 471.8 309.0 472.0 310.5 472.2 312.0 472.5 313.5 472.7 315.0 472.8 316.5 472.9 318.0 473.0 319.5 473.0 321.0 473.0 322.5 472.9 324.0 472.7 325.5 472.4 327.0 472.0 328.5 471.5 330.0 471.0 331.5 470.5 333.0 470.0 334.5 469.4 336.0 468.9 337.4 468.5" stroke="#3820b4" stroke-width="1.25" fill="none" clip-path="url(#clc)" stroke-linejoin="round"/>
<path d="M76.5 565.0 78.0 564.1 79.5 563.2 81.0 562.3 82.5 561.4 84.0 560.5 85.5 559.6 87.0 558.8 88.5 557.9 90.0 557.0 91.5 556.1 93.0 555.2 94.5 554.3 96.0 553.4 97.5 552.5 99.0 551.6 100.5 550.6 102.0 549.7 103.5 548.8 105.0 547.9 106.5 546.9 108.0 546.0 109.5 545.0 111.0 544.0 112.5 543.0 114.0 542.0 115.5 541.0 117.0 539.9 118.5 538.8 120.0 537.7 121.5 536.6 123.0 535.5 124.5 534.3 126.0 533.2 127.5 532.0 129.0 530.8 130.5 529.5 132.0 528.3 133.5 527.0 135.0 525.7 136.5 524.4 138.0 523.0 139.5 521.7 141.0 520.2 142.5 518.8 144.0 517.3 145.5 515.7 147.0 514.2 148.5 512.6 150.0 511.0 151.5 509.3 153.0 507.7 154.5 506.1 156.0 504.4 157.5 502.8 159.0 501.2 160.5 499.5 162.0 497.7 163.5 495.8 165.0 493.8 166.5 491.7 168.0 489.5 169.5 487.3 171.0 484.9 172.5 482.6 174.0 480.2 175.5 477.8 177.0 475.3 178.5 472.8 180.0 470.0 181.5 467.0 183.0 463.4 184.5 459.4 186.0 455.3 187.5 451.2 189.0 447.1 190.5 443.2 192.0 439.3 193.5 435.8 195.0 433.2 196.5 431.5 198.0 430.5 199.5 429.9 201.0 429.9 202.5 430.3 204.0 431.0 205.5 432.1 207.0 433.4 208.5 434.7 210.0 436.1 211.5 437.5 213.0 438.9 214.5 440.3 216.0 441.5 217.5 442.6 219.0 443.6 220.5 444.6 222.0 445.6 223.5 446.5 225.0 447.5 226.5 448.4 228.0 449.4 229.5 450.4 231.0 451.4 232.5 452.4 234.0 453.4 235.5 454.4 237.0 455.3 238.5 456.2 240.0 457.0 241.5 457.8 243.0 458.6 244.5 459.4 246.0 460.1 247.5 460.8 249.0 461.4 250.5 462.0 252.0 462.6 253.5 463.1 255.0 463.6 256.5 464.1 258.0 464.4 259.5 464.8 261.0 465.0 262.5 465.2 264.0 465.4 265.5 465.5 267.0 465.6 268.5 465.7 270.0 465.7 271.5 465.8 273.0 465.8 274.5 465.8 276.0 465.8 277.5 465.8 279.0 465.8 280.5 465.9 282.0 466.0 283.5 466.1 285.0 466.1 286.5 466.2 288.0 466.3 289.5 466.4 291.0 466.5 292.5 466.6 294.0 466.7 295.5 466.8 297.0 466.9 298.5 467.0 300.0 467.1 301.5 467.2 303.0 467.4 304.5 467.5 306.0 467.7 307.5 467.9 309.0 468.1 310.5 468.2 312.0 468.4 313.5 468.6 315.0 468.7 316.5 468.8 318.0 468.8 319.5 468.8 321.0 468.7 322.5 468.6 324.0 468.4 325.5 468.1 327.0 467.7 328.5 467.2 330.0 466.7 331.5 466.2 333.0 465.7 334.5 465.2 336.0 464.7 337.4 464.2" stroke="#2a20a8" stroke-width="1.25" fill="none" clip-path="url(#clc)" stroke-linejoin="round"/>
<path d="M76.5 562.6 78.0 561.7 79.5 560.9 81.0 560.0 82.5 559.1 84.0 558.3 85.5 557.4 87.0 556.6 88.5 555.7 90.0 554.9 91.5 554.0 93.0 553.1 94.5 552.3 96.0 551.4 97.5 550.5 99.0 549.6 100.5 548.7 102.0 547.8 103.5 546.9 105.0 545.9 106.5 545.0 108.0 544.1 109.5 543.1 111.0 542.2 112.5 541.2 114.0 540.2 115.5 539.2 117.0 538.1 118.5 537.1 120.0 536.0 121.5 534.9 123.0 533.8 124.5 532.6 126.0 531.5 127.5 530.3 129.0 529.1 130.5 527.9 132.0 526.6 133.5 525.3 135.0 524.0 136.5 522.7 138.0 521.3 139.5 519.9 141.0 518.5 142.5 517.0 144.0 515.5 145.5 514.0 147.0 512.4 148.5 510.8 150.0 509.2 151.5 507.6 153.0 506.0 154.5 504.4 156.0 502.7 157.5 501.1 159.0 499.5 160.5 497.8 162.0 496.1 163.5 494.2 165.0 492.2 166.5 490.1 168.0 487.9 169.5 485.6 171.0 483.3 172.5 480.9 174.0 478.5 175.5 476.1 177.0 473.6 178.5 471.0 180.0 468.2 181.5 465.1 183.0 461.5 184.5 457.2 186.0 452.9 187.5 448.6 189.0 444.2 190.5 440.1 192.0 436.0 193.5 432.3 195.0 429.5 196.5 427.8 198.0 426.7 199.5 426.3 201.0 426.4 202.5 427.0 204.0 427.9 205.5 429.1 207.0 430.6 208.5 432.0 210.0 433.4 211.5 434.9 213.0 436.4 214.5 437.8 216.0 439.1 217.5 440.2 219.0 441.3 220.5 442.3 222.0 443.3 223.5 444.3 225.0 445.3 226.5 446.3 228.0 447.3 229.5 448.4 231.0 449.5 232.5 450.5 234.0 451.6 235.5 452.6 237.0 453.5 238.5 454.4 240.0 455.3 241.5 456.2 243.0 457.0 244.5 457.8 246.0 458.6 247.5 459.3 249.0 459.9 250.5 460.5 252.0 461.1 253.5 461.6 255.0 462.1 256.5 462.6 258.0 462.9 259.5 463.2 261.0 463.5 262.5 463.7 264.0 463.8 265.5 463.9 267.0 464.0 268.5 464.0 270.0 464.1 271.5 464.1 273.0 464.1 274.5 464.0 276.0 464.0 277.5 464.0 279.0 464.0 280.5 464.0 282.0 464.1 283.5 464.2 285.0 464.2 286.5 464.3 288.0 464.4 289.5 464.5 291.0 464.6 292.5 464.6 294.0 464.7 295.5 464.8 297.0 464.9 298.5 465.0 300.0 465.1 301.5 465.2 303.0 465.3 304.5 465.4 306.0 465.6 307.5 465.7 309.0 465.9 310.5 466.1 312.0 466.2 313.5 466.3 315.0 466.4 316.5 466.5 318.0 466.6 319.5 466.6 321.0 466.5 322.5 466.4 324.0 466.1 325.5 465.8 327.0 465.4 328.5 465.0 330.0 464.5 331.5 464.0 333.0 463.4 334.5 462.9 336.0 462.4 337.4 462.0" stroke="#6a18cc" stroke-width="1.25" fill="none" clip-path="url(#clc)" stroke-linejoin="round"/>
<path d="M76.5 561.7 78.0 560.9 79.5 560.0 81.0 559.1 82.5 558.3 84.0 557.4 85.5 556.6 87.0 555.7 88.5 554.9 90.0 554.0 91.5 553.1 93.0 552.3 94.5 551.4 96.0 550.5 97.5 549.6 99.0 548.7 100.5 547.8 102.0 546.9 103.5 545.9 105.0 545.0 106.5 544.1 108.0 543.1 109.5 542.1 111.0 541.2 112.5 540.2 114.0 539.1 115.5 538.1 117.0 537.0 118.5 536.0 120.0 534.9 121.5 533.8 123.0 532.6 124.5 531.5 126.0 530.3 127.5 529.1 129.0 527.9 130.5 526.7 132.0 525.4 133.5 524.1 135.0 522.8 136.5 521.5 138.0 520.1 139.5 518.7 141.0 517.3 142.5 515.8 144.0 514.3 145.5 512.8 147.0 511.3 148.5 509.7 150.0 508.1 151.5 506.5 153.0 504.9 154.5 503.3 156.0 501.7 157.5 500.2 159.0 498.6 160.5 496.9 162.0 495.2 163.5 493.4 165.0 491.4 166.5 489.3 168.0 487.2 169.5 484.9 171.0 482.6 172.5 480.2 174.0 477.8 175.5 475.3 177.0 472.9 178.5 470.2 180.0 467.5 181.5 464.4 183.0 460.7 184.5 456.4 186.0 452.1 187.5 447.7 189.0 443.3 190.5 439.1 192.0 435.0 193.5 431.2 195.0 428.4 196.5 426.7 198.0 425.7 199.5 425.3 201.0 425.4 202.5 426.0 204.0 427.0 205.5 428.3 207.0 429.8 208.5 431.2 210.0 432.7 211.5 434.2 213.0 435.7 214.5 437.1 216.0 438.4 217.5 439.5 219.0 440.6 220.5 441.7 222.0 442.7 223.5 443.6 225.0 444.6 226.5 445.6 228.0 446.7 229.5 447.7 231.0 448.8 232.5 449.9 234.0 450.9 235.5 451.9 237.0 452.9 238.5 453.8 240.0 454.7 241.5 455.6 243.0 456.4 244.5 457.2 246.0 457.9 247.5 458.6 249.0 459.3 250.5 459.9 252.0 460.5 253.5 461.0 255.0 461.5 256.5 461.9 258.0 462.3 259.5 462.6 261.0 462.8 262.5 463.0 264.0 463.1 265.5 463.2 267.0 463.3 268.5 463.3 270.0 463.4 271.5 463.4 273.0 463.3 274.5 463.3 276.0 463.2 277.5 463.2 279.0 463.2 280.5 463.2 282.0 463.3 283.5 463.4 285.0 463.4 286.5 463.5 288.0 463.6 289.5 463.6 291.0 463.7 292.5 463.8 294.0 463.9 295.5 463.9 297.0 464.0 298.5 464.1 300.0 464.2 301.5 464.3 303.0 464.4 304.5 464.5 306.0 464.6 307.5 464.8 309.0 464.9 310.5 465.1 312.0 465.2 313.5 465.4 315.0 465.5 316.5 465.5 318.0 465.6 319.5 465.6 321.0 465.5 322.5 465.4 324.0 465.1 325.5 464.8 327.0 464.4 328.5 464.0 330.0 463.5 331.5 463.0 333.0 462.4 334.5 461.9 336.0 461.4 337.4 461.0" stroke="#7a14d0" stroke-width="1.25" fill="none" clip-path="url(#clc)" stroke-linejoin="round"/>
<path d="M76.5 560.7 78.0 559.8 79.5 558.9 81.0 558.1 82.5 557.2 84.0 556.4 85.5 555.5 87.0 554.7 88.5 553.8 90.0 553.0 91.5 552.1 93.0 551.3 94.5 550.4 96.0 549.5 97.5 548.6 99.0 547.7 100.5 546.8 102.0 545.8 103.5 544.9 105.0 544.0 106.5 543.0 108.0 542.0 109.5 541.1 111.0 540.1 112.5 539.0 114.0 538.0 115.5 537.0 117.0 535.9 118.5 534.8 120.0 533.7 121.5 532.6 123.0 531.5 124.5 530.3 126.0 529.1 127.5 527.9 129.0 526.7 130.5 525.5 132.0 524.2 133.5 522.9 135.0 521.6 136.5 520.3 138.0 518.9 139.5 517.5 141.0 516.1 142.5 514.6 144.0 513.1 145.5 511.6 147.0 510.1 148.5 508.5 150.0 507.0 151.5 505.4 153.0 503.9 154.5 502.3 156.0 500.7 157.5 499.2 159.0 497.7 160.5 496.1 162.0 494.4 163.5 492.6 165.0 490.6 166.5 488.6 168.0 486.4 169.5 484.1 171.0 481.8 172.5 479.4 174.0 477.0 175.5 474.6 177.0 472.1 178.5 469.5 180.0 466.7 181.5 463.7 183.0 459.9 184.5 455.6 186.0 451.2 187.5 446.8 189.0 442.4 190.5 438.2 192.0 434.0 193.5 430.2 195.0 427.4 196.5 425.7 198.0 424.7 199.5 424.3 201.0 424.5 202.5 425.1 204.0 426.1 205.5 427.4 207.0 428.9 208.5 430.4 210.0 431.9 211.5 433.4 213.0 434.8 214.5 436.2 216.0 437.5 217.5 438.7 219.0 439.8 220.5 440.8 222.0 441.7 223.5 442.7 225.0 443.7 226.5 444.6 228.0 445.7 229.5 446.7 231.0 447.8 232.5 448.8 234.0 449.8 235.5 450.8 237.0 451.8 238.5 452.7 240.0 453.6 241.5 454.4 243.0 455.2 244.5 456.0 246.0 456.7 247.5 457.4 249.0 458.1 250.5 458.7 252.0 459.2 253.5 459.7 255.0 460.2 256.5 460.6 258.0 461.0 259.5 461.3 261.0 461.5 262.5 461.7 264.0 461.8 265.5 461.9 267.0 461.9 268.5 462.0 270.0 462.0 271.5 462.0 273.0 461.9 274.5 461.9 276.0 461.8 277.5 461.8 279.0 461.7 280.5 461.8 282.0 461.8 283.5 461.9 285.0 461.9 286.5 462.0 288.0 462.1 289.5 462.2 291.0 462.2 292.5 462.3 294.0 462.4 295.5 462.5 297.0 462.6 298.5 462.6 300.0 462.7 301.5 462.8 303.0 462.9 304.5 463.0 306.0 463.2 307.5 463.3 309.0 463.5 310.5 463.6 312.0 463.8 313.5 463.9 315.0 464.0 316.5 464.0 318.0 464.1 319.5 464.0 321.0 464.0 322.5 463.9 324.0 463.6 325.5 463.3 327.0 462.9 328.5 462.5 330.0 462.0 331.5 461.5 333.0 460.9 334.5 460.4 336.0 459.9 337.4 459.5" stroke="#8010d4" stroke-width="1.25" fill="none" clip-path="url(#clc)" stroke-linejoin="round"/>
<path d="M76.5 559.6 78.0 558.7 79.5 557.9 81.0 557.0 82.5 556.2 84.0 555.3 85.5 554.5 87.0 553.6 88.5 552.8 90.0 551.9 91.5 551.1 93.0 550.2 94.5 549.3 96.0 548.4 97.5 547.5 99.0 546.6 100.5 545.7 102.0 544.7 103.5 543.8 105.0 542.8 106.5 541.8 108.0 540.9 109.5 539.9 111.0 538.8 112.5 537.8 114.0 536.8 115.5 535.7 117.0 534.6 118.5 533.5 120.0 532.4 121.5 531.3 123.0 530.1 124.5 528.9 126.0 527.7 127.5 526.5 129.0 525.3 130.5 524.0 132.0 522.8 133.5 521.5 135.0 520.1 136.5 518.8 138.0 517.4 139.5 516.0 141.0 514.6 142.5 513.1 144.0 511.6 145.5 510.1 147.0 508.6 148.5 507.1 150.0 505.5 151.5 503.9 153.0 502.4 154.5 500.8 156.0 499.3 157.5 497.8 159.0 496.2 160.5 494.6 162.0 493.0 163.5 491.2 165.0 489.2 166.5 487.2 168.0 485.0 169.5 482.7 171.0 480.3 172.5 477.9 174.0 475.5 175.5 473.0 177.0 470.5 178.5 467.8 180.0 465.0 181.5 461.9 183.0 458.0 184.5 453.6 186.0 449.0 187.5 444.5 189.0 439.9 190.5 435.5 192.0 431.1 193.5 427.1 195.0 424.2 196.5 422.6 198.0 421.6 199.5 421.3 201.0 421.6 202.5 422.4 204.0 423.5 205.5 424.9 207.0 426.6 208.5 428.1 210.0 429.7 211.5 431.2 213.0 432.7 214.5 434.2 216.0 435.5 217.5 436.7 219.0 437.8 220.5 438.9 222.0 439.9 223.5 440.9 225.0 441.9 226.5 442.9 228.0 444.0 229.5 445.0 231.0 446.1 232.5 447.2 234.0 448.3 235.5 449.3 237.0 450.3 238.5 451.2 240.0 452.2 241.5 453.0 243.0 453.9 244.5 454.7 246.0 455.4 247.5 456.1 249.0 456.8 250.5 457.4 252.0 457.9 253.5 458.5 255.0 458.9 256.5 459.3 258.0 459.7 259.5 460.0 261.0 460.2 262.5 460.3 264.0 460.5 265.5 460.5 267.0 460.6 268.5 460.6 270.0 460.6 271.5 460.6 273.0 460.5 274.5 460.4 276.0 460.4 277.5 460.3 279.0 460.3 280.5 460.3 282.0 460.4 283.5 460.4 285.0 460.5 286.5 460.5 288.0 460.6 289.5 460.7 291.0 460.8 292.5 460.8 294.0 460.9 295.5 461.0 297.0 461.1 298.5 461.2 300.0 461.3 301.5 461.3 303.0 461.4 304.5 461.6 306.0 461.7 307.5 461.8 309.0 462.0 310.5 462.1 312.0 462.3 313.5 462.4 315.0 462.5 316.5 462.5 318.0 462.6 319.5 462.5 321.0 462.5 322.5 462.3 324.0 462.1 325.5 461.8 327.0 461.4 328.5 461.0 330.0 460.5 331.5 460.0 333.0 459.4 334.5 458.9 336.0 458.4 337.4 458.0" stroke="#7a10d8" stroke-width="1.25" fill="none" clip-path="url(#clc)" stroke-linejoin="round"/>
<path d="M76.5 748.0 78.0 746.9 79.5 745.8 81.0 744.7 82.5 743.6 84.0 742.5 85.5 741.5 87.0 740.5 88.5 739.6 90.0 738.7 91.5 737.9 93.0 737.1 94.5 736.3 96.0 735.5 97.5 734.8 99.0 734.1 100.5 733.3 102.0 732.6 103.5 731.9 105.0 731.2 106.5 730.5 108.0 729.8 109.5 729.1 111.0 728.4 112.5 727.7 114.0 727.0 115.5 726.3 117.0 725.7 118.5 725.0 120.0 724.3 121.5 723.7 123.0 723.0 124.5 722.3 126.0 721.7 127.5 721.0 129.0 720.4 130.5 719.8 132.0 719.3 133.5 718.8 135.0 718.3 136.5 717.7 138.0 717.0 139.5 716.1 141.0 715.2 142.5 714.2 144.0 713.3 145.5 712.3 147.0 711.2 148.5 710.2 150.0 709.1 151.5 708.0 153.0 706.9 154.5 705.8 156.0 704.7 157.5 703.6 159.0 702.5 160.5 701.4 162.0 700.2 163.5 699.1 165.0 697.9 166.5 696.7 168.0 695.5 169.5 694.3 171.0 693.0 172.5 691.8 174.0 690.6 175.5 689.4 177.0 688.2 178.5 687.0 180.0 685.8 181.5 684.6 183.0 683.5 184.5 682.3 186.0 681.1 187.5 680.0 189.0 678.9 190.5 677.8 192.0 676.8 193.5 675.8 195.0 674.9 196.5 674.1 198.0 673.3 199.5 672.6 201.0 671.9 202.5 671.2 204.0 670.5 205.5 669.8 207.0 669.0 208.5 668.2 210.0 667.5 211.5 666.7 213.0 665.9 214.5 665.1 216.0 664.1 217.5 663.1 219.0 662.1 220.5 661.0 222.0 659.9 223.5 658.8 225.0 657.7 226.5 656.5 228.0 655.4 229.5 654.3 231.0 653.2 232.5 652.2 234.0 651.2 235.5 650.2 237.0 649.4 238.5 648.6 240.0 647.8 241.5 647.0 243.0 646.3 244.5 645.7 246.0 645.0 247.5 644.4 249.0 643.9 250.5 643.3 252.0 642.8 253.5 642.3 255.0 641.8 256.5 641.3 258.0 640.9 259.5 640.4 261.0 640.0 262.5 639.6 264.0 639.2 265.5 638.9 267.0 638.6 268.5 638.3 270.0 638.0 271.5 637.7 273.0 637.5 274.5 637.2 276.0 637.0 277.5 636.8 279.0 636.6 280.5 636.4 282.0 636.3 283.5 636.1 285.0 636.0 286.5 636.0 288.0 635.9 289.5 635.8 291.0 635.8 292.5 635.8 294.0 635.7 295.5 635.7 297.0 635.6 298.5 635.5 300.0 635.5 301.5 635.3 303.0 635.2 304.5 635.1 306.0 635.0 307.5 634.9 309.0 634.8 310.5 634.7 312.0 634.5 313.5 634.4 315.0 634.3 316.5 634.1 318.0 633.9 319.5 633.7 321.0 633.5 322.5 633.2 324.0 632.9 325.5 632.6 327.0 632.2 328.5 631.8 330.0 631.3 331.5 630.9 333.0 630.5 334.5 630.0 336.0 629.6 337.4 629.2" stroke="#ff1010" stroke-width="1.25" fill="none" clip-path="url(#cld)" stroke-linejoin="round"/>
<path d="M76.5 729.9 78.0 729.1 79.5 728.1 81.0 727.2 82.5 726.3 84.0 725.4 85.5 724.5 87.0 723.6 88.5 722.8 90.0 722.0 91.5 721.2 93.0 720.4 94.5 719.6 96.0 718.8 97.5 718.0 99.0 717.2 100.5 716.4 102.0 715.7 103.5 714.9 105.0 714.2 106.5 713.4 108.0 712.6 109.5 711.9 111.0 711.1 112.5 710.4 114.0 709.6 115.5 708.8 117.0 708.1 118.5 707.4 120.0 706.6 121.5 705.9 123.0 705.2 124.5 704.5 126.0 703.7 127.5 703.0 129.0 702.3 130.5 701.6 132.0 701.0 133.5 700.3 135.0 699.6 136.5 698.9 138.0 698.1 139.5 697.2 141.0 696.4 142.5 695.5 144.0 694.6 145.5 693.6 147.0 692.7 148.5 691.8 150.0 690.8 151.5 689.8 153.0 688.9 154.5 687.9 156.0 686.9 157.5 685.8 159.0 684.8 160.5 683.8 162.0 682.7 163.5 681.5 165.0 680.3 166.5 679.0 168.0 677.7 169.5 676.4 171.0 675.1 172.5 673.8 174.0 672.5 175.5 671.1 177.0 669.8 178.5 668.4 180.0 667.1 181.5 665.6 183.0 664.2 184.5 662.8 186.0 661.3 187.5 659.9 189.0 658.6 190.5 657.4 192.0 656.2 193.5 655.2 195.0 654.4 196.5 653.8 198.0 653.2 199.5 652.7 201.0 652.2 202.5 651.6 204.0 651.0 205.5 650.4 207.0 649.7 208.5 649.1 210.0 648.4 211.5 647.6 213.0 646.8 214.5 646.0 216.0 645.0 217.5 644.0 219.0 643.0 220.5 641.9 222.0 640.7 223.5 639.6 225.0 638.4 226.5 637.2 228.0 636.0 229.5 634.9 231.0 633.7 232.5 632.6 234.0 631.5 235.5 630.4 237.0 629.4 238.5 628.5 240.0 627.7 241.5 627.0 243.0 626.4 244.5 625.9 246.0 625.4 247.5 624.9 249.0 624.3 250.5 623.7 252.0 623.1 253.5 622.6 255.0 622.1 256.5 621.7 258.0 621.4 259.5 621.1 261.0 620.8 262.5 620.5 264.0 620.3 265.5 620.1 267.0 619.9 268.5 619.8 270.0 619.7 271.5 619.6 273.0 619.5 274.5 619.4 276.0 619.4 277.5 619.3 279.0 619.3 280.5 619.2 282.0 619.2 283.5 619.2 285.0 619.2 286.5 619.2 288.0 619.3 289.5 619.3 291.0 619.3 292.5 619.3 294.0 619.3 295.5 619.3 297.0 619.2 298.5 619.1 300.0 619.0 301.5 618.9 303.0 618.7 304.5 618.6 306.0 618.4 307.5 618.2 309.0 618.1 310.5 617.9 312.0 617.7 313.5 617.5 315.0 617.3 316.5 617.0 318.0 616.8 319.5 616.5 321.0 616.3 322.5 616.0 324.0 615.6 325.5 615.2 327.0 614.8 328.5 614.4 330.0 614.0 331.5 613.5 333.0 613.1 334.5 612.6 336.0 612.2 337.4 611.9" stroke="#ff1a1a" stroke-width="1.25" fill="none" clip-path="url(#cld)" stroke-linejoin="round"/>
<path d="M76.5 723.7 78.0 722.9 79.5 722.1 81.0 721.2 82.5 720.4 84.0 719.5 85.5 718.7 87.0 717.9 88.5 717.0 90.0 716.2 91.5 715.4 93.0 714.6 94.5 713.9 96.0 713.1 97.5 712.3 99.0 711.5 100.5 710.7 102.0 709.9 103.5 709.2 105.0 708.4 106.5 707.6 108.0 706.9 109.5 706.1 111.0 705.3 112.5 704.6 114.0 703.8 115.5 703.0 117.0 702.3 118.5 701.5 120.0 700.7 121.5 700.0 123.0 699.3 124.5 698.5 126.0 697.8 127.5 697.1 129.0 696.4 130.5 695.7 132.0 694.9 133.5 694.2 135.0 693.5 136.5 692.7 138.0 691.9 139.5 691.1 141.0 690.2 142.5 689.3 144.0 688.4 145.5 687.4 147.0 686.5 148.5 685.5 150.0 684.5 151.5 683.5 153.0 682.5 154.5 681.4 156.0 680.4 157.5 679.3 159.0 678.2 160.5 677.1 162.0 675.9 163.5 674.6 165.0 673.3 166.5 671.9 168.0 670.4 169.5 669.0 171.0 667.6 172.5 666.2 174.0 664.8 175.5 663.3 177.0 661.9 178.5 660.4 180.0 658.9 181.5 657.4 183.0 655.9 184.5 654.3 186.0 652.7 187.5 651.1 189.0 649.7 190.5 648.4 192.0 647.2 193.5 646.1 195.0 645.3 196.5 644.7 198.0 644.2 199.5 643.7 201.0 643.2 202.5 642.8 204.0 642.2 205.5 641.6 207.0 641.0 208.5 640.4 210.0 639.8 211.5 639.2 213.0 638.5 214.5 637.8 216.0 637.1 217.5 636.2 219.0 635.4 220.5 634.5 222.0 633.5 223.5 632.5 225.0 631.5 226.5 630.5 228.0 629.5 229.5 628.4 231.0 627.4 232.5 626.3 234.0 625.2 235.5 624.2 237.0 623.2 238.5 622.2 240.0 621.5 241.5 620.8 243.0 620.2 244.5 619.7 246.0 619.3 247.5 618.8 249.0 618.3 250.5 617.7 252.0 617.0 253.5 616.5 255.0 616.0 256.5 615.6 258.0 615.2 259.5 614.9 261.0 614.6 262.5 614.3 264.0 614.1 265.5 613.9 267.0 613.7 268.5 613.5 270.0 613.3 271.5 613.2 273.0 613.1 274.5 613.0 276.0 612.9 277.5 612.8 279.0 612.7 280.5 612.6 282.0 612.5 283.5 612.5 285.0 612.5 286.5 612.4 288.0 612.4 289.5 612.4 291.0 612.4 292.5 612.3 294.0 612.3 295.5 612.2 297.0 612.2 298.5 612.1 300.0 611.9 301.5 611.8 303.0 611.6 304.5 611.4 306.0 611.2 307.5 611.0 309.0 610.7 310.5 610.5 312.0 610.2 313.5 609.9 315.0 609.7 316.5 609.4 318.0 609.0 319.5 608.7 321.0 608.3 322.5 608.0 324.0 607.6 325.5 607.1 327.0 606.7 328.5 606.2 330.0 605.7 331.5 605.3 333.0 604.8 334.5 604.3 336.0 603.9 337.4 603.6" stroke="#2828a8" stroke-width="1.25" fill="none" clip-path="url(#cld)" stroke-linejoin="round"/>
<path d="M76.5 723.4 78.0 722.6 79.5 721.8 81.0 720.9 82.5 720.1 84.0 719.3 85.5 718.4 87.0 717.6 88.5 716.8 90.0 716.0 91.5 715.2 93.0 714.4 94.5 713.6 96.0 712.9 97.5 712.1 99.0 711.3 100.5 710.5 102.0 709.8 103.5 709.0 105.0 708.2 106.5 707.5 108.0 706.7 109.5 706.0 111.0 705.2 112.5 704.4 114.0 703.7 115.5 702.9 117.0 702.2 118.5 701.4 120.0 700.7 121.5 699.9 123.0 699.2 124.5 698.5 126.0 697.8 127.5 697.1 129.0 696.4 130.5 695.6 132.0 694.9 133.5 694.2 135.0 693.5 136.5 692.7 138.0 691.9 139.5 691.1 141.0 690.2 142.5 689.3 144.0 688.4 145.5 687.4 147.0 686.5 148.5 685.5 150.0 684.5 151.5 683.5 153.0 682.5 154.5 681.4 156.0 680.4 157.5 679.3 159.0 678.2 160.5 677.1 162.0 675.9 163.5 674.6 165.0 673.3 166.5 671.9 168.0 670.4 169.5 669.0 171.0 667.6 172.5 666.2 174.0 664.8 175.5 663.3 177.0 661.9 178.5 660.4 180.0 658.9 181.5 657.4 183.0 655.9 184.5 654.3 186.0 652.7 187.5 651.2 189.0 649.8 190.5 648.5 192.0 647.3 193.5 646.3 195.0 645.5 196.5 644.9 198.0 644.4 199.5 644.0 201.0 643.6 202.5 643.1 204.0 642.6 205.5 642.0 207.0 641.4 208.5 640.7 210.0 640.1 211.5 639.4 213.0 638.7 214.5 638.0 216.0 637.2 217.5 636.3 219.0 635.3 220.5 634.3 222.0 633.3 223.5 632.3 225.0 631.2 226.5 630.1 228.0 629.0 229.5 627.9 231.0 626.8 232.5 625.7 234.0 624.6 235.5 623.5 237.0 622.5 238.5 621.5 240.0 620.6 241.5 619.8 243.0 619.0 244.5 618.2 246.0 617.5 247.5 616.8 249.0 616.2 250.5 615.5 252.0 614.9 253.5 614.4 255.0 613.9 256.5 613.4 258.0 613.1 259.5 612.8 261.0 612.5 262.5 612.2 264.0 612.0 265.5 611.8 267.0 611.6 268.5 611.5 270.0 611.3 271.5 611.2 273.0 611.1 274.5 611.0 276.0 610.9 277.5 610.8 279.0 610.8 280.5 610.7 282.0 610.6 283.5 610.6 285.0 610.6 286.5 610.6 288.0 610.5 289.5 610.5 291.0 610.5 292.5 610.5 294.0 610.4 295.5 610.4 297.0 610.3 298.5 610.2 300.0 610.1 301.5 609.9 303.0 609.7 304.5 609.5 306.0 609.4 307.5 609.2 309.0 609.0 310.5 608.8 312.0 608.6 313.5 608.4 315.0 608.2 316.5 607.9 318.0 607.7 319.5 607.4 321.0 607.1 322.5 606.8 324.0 606.5 325.5 606.1 327.0 605.7 328.5 605.3 330.0 604.9 331.5 604.4 333.0 604.0 334.5 603.6 336.0 603.2 337.4 602.8" stroke="#ff1030" stroke-width="1.25" fill="none" clip-path="url(#cld)" stroke-linejoin="round"/>
<path d="M76.5 722.8 78.0 722.0 79.5 721.2 81.0 720.4 82.5 719.5 84.0 718.7 85.5 717.9 87.0 717.1 88.5 716.3 90.0 715.5 91.5 714.7 93.0 713.9 94.5 713.1 96.0 712.3 97.5 711.5 99.0 710.8 100.5 710.0 102.0 709.2 103.5 708.5 105.0 707.7 106.5 706.9 108.0 706.2 109.5 705.4 111.0 704.7 112.5 703.9 114.0 703.1 115.5 702.4 117.0 701.6 118.5 700.9 120.0 700.1 121.5 699.4 123.0 698.7 124.5 697.9 126.0 697.2 127.5 696.5 129.0 695.8 130.5 695.1 132.0 694.4 133.5 693.6 135.0 692.9 136.5 692.1 138.0 691.3 139.5 690.5 141.0 689.6 142.5 688.7 144.0 687.8 145.5 686.8 147.0 685.9 148.5 684.9 150.0 683.9 151.5 682.9 153.0 681.9 154.5 680.8 156.0 679.8 157.5 678.7 159.0 677.6 160.5 676.5 162.0 675.3 163.5 674.0 165.0 672.7 166.5 671.3 168.0 669.9 169.5 668.4 171.0 667.0 172.5 665.6 174.0 664.2 175.5 662.7 177.0 661.3 178.5 659.8 180.0 658.3 181.5 656.8 183.0 655.2 184.5 653.6 186.0 652.0 187.5 650.5 189.0 649.1 190.5 647.8 192.0 646.6 193.5 645.6 195.0 644.8 196.5 644.2 198.0 643.7 199.5 643.3 201.0 642.9 202.5 642.4 204.0 641.9 205.5 641.3 207.0 640.7 208.5 640.0 210.0 639.4 211.5 638.7 213.0 638.0 214.5 637.3 216.0 636.5 217.5 635.6 219.0 634.7 220.5 633.7 222.0 632.7 223.5 631.6 225.0 630.5 226.5 629.5 228.0 628.4 229.5 627.3 231.0 626.2 232.5 625.1 234.0 624.0 235.5 622.9 237.0 621.9 238.5 620.9 240.0 619.9 241.5 619.1 243.0 618.3 244.5 617.5 246.0 616.8 247.5 616.1 249.0 615.5 250.5 614.8 252.0 614.2 253.5 613.6 255.0 613.1 256.5 612.7 258.0 612.3 259.5 611.9 261.0 611.6 262.5 611.3 264.0 611.1 265.5 610.8 267.0 610.6 268.5 610.4 270.0 610.2 271.5 610.1 273.0 609.9 274.5 609.8 276.0 609.6 277.5 609.5 279.0 609.4 280.5 609.3 282.0 609.2 283.5 609.1 285.0 609.0 286.5 608.9 288.0 608.9 289.5 608.8 291.0 608.8 292.5 608.7 294.0 608.6 295.5 608.6 297.0 608.5 298.5 608.3 300.0 608.2 301.5 608.0 303.0 607.9 304.5 607.7 306.0 607.6 307.5 607.4 309.0 607.3 310.5 607.1 312.0 607.0 313.5 606.8 315.0 606.7 316.5 606.5 318.0 606.3 319.5 606.1 321.0 605.9 322.5 605.6 324.0 605.4 325.5 605.1 327.0 604.7 328.5 604.4 330.0 604.0 331.5 603.6 333.0 603.2 334.5 602.8 336.0 602.4 337.4 602.1" stroke="#f01050" stroke-width="1.25" fill="none" clip-path="url(#cld)" stroke-linejoin="round"/>
<path d="M76.5 722.0 78.0 721.1 79.5 720.3 81.0 719.5 82.5 718.7 84.0 717.9 85.5 717.1 87.0 716.3 88.5 715.5 90.0 714.7 91.5 713.9 93.0 713.1 94.5 712.3 96.0 711.6 97.5 710.8 99.0 710.0 100.5 709.3 102.0 708.5 103.5 707.7 105.0 707.0 106.5 706.2 108.0 705.5 109.5 704.7 111.0 704.0 112.5 703.2 114.0 702.5 115.5 701.7 117.0 701.0 118.5 700.2 120.0 699.5 121.5 698.8 123.0 698.1 124.5 697.3 126.0 696.6 127.5 695.9 129.0 695.2 130.5 694.5 132.0 693.8 133.5 693.1 135.0 692.3 136.5 691.5 138.0 690.7 139.5 689.9 141.0 689.0 142.5 688.1 144.0 687.2 145.5 686.2 147.0 685.3 148.5 684.3 150.0 683.3 151.5 682.3 153.0 681.3 154.5 680.3 156.0 679.2 157.5 678.1 159.0 677.0 160.5 675.9 162.0 674.7 163.5 673.5 165.0 672.1 166.5 670.7 168.0 669.3 169.5 667.8 171.0 666.4 172.5 665.0 174.0 663.6 175.5 662.1 177.0 660.7 178.5 659.2 180.0 657.7 181.5 656.2 183.0 654.6 184.5 652.9 186.0 651.3 187.5 649.7 189.0 648.2 190.5 646.9 192.0 645.6 193.5 644.5 195.0 643.6 196.5 643.0 198.0 642.4 199.5 642.0 201.0 641.5 202.5 641.0 204.0 640.5 205.5 639.9 207.0 639.3 208.5 638.7 210.0 638.0 211.5 637.4 213.0 636.8 214.5 636.1 216.0 635.3 217.5 634.5 219.0 633.6 220.5 632.6 222.0 631.7 223.5 630.7 225.0 629.7 226.5 628.6 228.0 627.6 229.5 626.5 231.0 625.5 232.5 624.4 234.0 623.3 235.5 622.2 237.0 621.2 238.5 620.2 240.0 619.2 241.5 618.3 243.0 617.4 244.5 616.6 246.0 615.8 247.5 615.1 249.0 614.4 250.5 613.7 252.0 613.1 253.5 612.5 255.0 612.0 256.5 611.6 258.0 611.2 259.5 610.8 261.0 610.5 262.5 610.2 264.0 609.9 265.5 609.6 267.0 609.4 268.5 609.1 270.0 608.9 271.5 608.7 273.0 608.5 274.5 608.3 276.0 608.2 277.5 608.0 279.0 607.8 280.5 607.7 282.0 607.6 283.5 607.4 285.0 607.3 286.5 607.2 288.0 607.2 289.5 607.1 291.0 607.0 292.5 606.9 294.0 606.8 295.5 606.7 297.0 606.6 298.5 606.5 300.0 606.3 301.5 606.2 303.0 606.0 304.5 605.9 306.0 605.8 307.5 605.7 309.0 605.6 310.5 605.5 312.0 605.4 313.5 605.3 315.0 605.2 316.5 605.1 318.0 604.9 319.5 604.8 321.0 604.7 322.5 604.5 324.0 604.3 325.5 604.0 327.0 603.7 328.5 603.4 330.0 603.1 331.5 602.8 333.0 602.4 334.5 602.0 336.0 601.6 337.4 601.3" stroke="#c8089a" stroke-width="1.25" fill="none" clip-path="url(#cld)" stroke-linejoin="round"/>
<path d="M76.5 721.1 78.0 720.3 79.5 719.5 81.0 718.7 82.5 717.9 84.0 717.0 85.5 716.2 87.0 715.5 88.5 714.7 90.0 713.9 91.5 713.1 93.0 712.3 94.5 711.6 96.0 710.8 97.5 710.0 99.0 709.3 100.5 708.5 102.0 707.8 103.5 707.0 105.0 706.3 106.5 705.5 108.0 704.8 109.5 704.1 111.0 703.3 112.5 702.6 114.0 701.8 115.5 701.1 117.0 700.4 118.5 699.6 120.0 698.9 121.5 698.2 123.0 697.5 124.5 696.7 126.0 696.0 127.5 695.3 129.0 694.6 130.5 693.9 132.0 693.2 133.5 692.5 135.0 691.7 136.5 690.9 138.0 690.1 139.5 689.3 141.0 688.4 142.5 687.5 144.0 686.6 145.5 685.7 147.0 684.7 148.5 683.7 150.0 682.8 151.5 681.8 153.0 680.7 154.5 679.7 156.0 678.6 157.5 677.6 159.0 676.5 160.5 675.4 162.0 674.2 163.5 672.9 165.0 671.5 166.5 670.1 168.0 668.7 169.5 667.3 171.0 665.8 172.5 664.4 174.0 663.0 175.5 661.5 177.0 660.1 178.5 658.6 180.0 657.1 181.5 655.5 183.0 653.9 184.5 652.2 186.0 650.5 187.5 648.9 189.0 647.3 190.5 645.8 192.0 644.5 193.5 643.3 195.0 642.3 196.5 641.5 198.0 640.9 199.5 640.4 201.0 639.8 202.5 639.3 204.0 638.7 205.5 638.1 207.0 637.5 208.5 636.9 210.0 636.4 211.5 635.8 213.0 635.2 214.5 634.5 216.0 633.8 217.5 633.1 219.0 632.3 220.5 631.4 222.0 630.5 223.5 629.6 225.0 628.7 226.5 627.7 228.0 626.8 229.5 625.8 231.0 624.7 232.5 623.7 234.0 622.6 235.5 621.6 237.0 620.5 238.5 619.5 240.0 618.6 241.5 617.6 243.0 616.8 244.5 615.9 246.0 615.1 247.5 614.4 249.0 613.7 250.5 613.0 252.0 612.4 253.5 611.8 255.0 611.3 256.5 610.8 258.0 610.3 259.5 610.0 261.0 609.6 262.5 609.2 264.0 608.9 265.5 608.6 267.0 608.3 268.5 608.0 270.0 607.7 271.5 607.4 273.0 607.2 274.5 606.9 276.0 606.7 277.5 606.5 279.0 606.2 280.5 606.0 282.0 605.8 283.5 605.6 285.0 605.5 286.5 605.3 288.0 605.2 289.5 605.1 291.0 604.9 292.5 604.8 294.0 604.7 295.5 604.5 297.0 604.4 298.5 604.2 300.0 604.1 301.5 603.9 303.0 603.8 304.5 603.7 306.0 603.6 307.5 603.6 309.0 603.6 310.5 603.6 312.0 603.6 313.5 603.6 315.0 603.6 316.5 603.6 318.0 603.6 319.5 603.5 321.0 603.5 322.5 603.4 324.0 603.3 325.5 603.2 327.0 603.0 328.5 602.8 330.0 602.5 331.5 602.3 333.0 601.9 334.5 601.6 336.0 601.3 337.4 600.9" stroke="#9a08c8" stroke-width="1.25" fill="none" clip-path="url(#cld)" stroke-linejoin="round"/>
<path d="M76.5 720.2 78.0 719.4 79.5 718.6 81.0 717.8 82.5 717.0 84.0 716.2 85.5 715.4 87.0 714.6 88.5 713.9 90.0 713.1 91.5 712.3 93.0 711.6 94.5 710.8 96.0 710.1 97.5 709.3 99.0 708.6 100.5 707.8 102.0 707.1 103.5 706.3 105.0 705.6 106.5 704.9 108.0 704.1 109.5 703.4 111.0 702.6 112.5 701.9 114.0 701.2 115.5 700.4 117.0 699.7 118.5 699.0 120.0 698.3 121.5 697.5 123.0 696.8 124.5 696.1 126.0 695.4 127.5 694.7 129.0 694.0 130.5 693.3 132.0 692.6 133.5 691.9 135.0 691.1 136.5 690.4 138.0 689.5 139.5 688.7 141.0 687.8 142.5 686.9 144.0 686.0 145.5 685.1 147.0 684.1 148.5 683.2 150.0 682.2 151.5 681.2 153.0 680.2 154.5 679.1 156.0 678.1 157.5 677.0 159.0 675.9 160.5 674.8 162.0 673.6 163.5 672.3 165.0 671.0 166.5 669.5 168.0 668.1 169.5 666.7 171.0 665.2 172.5 663.8 174.0 662.4 175.5 660.9 177.0 659.4 178.5 658.0 180.0 656.4 181.5 654.9 183.0 653.3 184.5 651.5 186.0 649.8 187.5 648.1 189.0 646.4 190.5 644.9 192.0 643.5 193.5 642.2 195.0 641.2 196.5 640.3 198.0 639.7 199.5 639.1 201.0 638.5 202.5 637.9 204.0 637.3 205.5 636.7 207.0 636.1 208.5 635.6 210.0 635.0 211.5 634.5 213.0 633.9 214.5 633.3 216.0 632.7 217.5 632.0 219.0 631.2 220.5 630.4 222.0 629.6 223.5 628.7 225.0 627.8 226.5 626.9 228.0 626.0 229.5 625.0 231.0 624.0 232.5 623.0 234.0 622.0 235.5 620.9 237.0 619.9 238.5 618.9 240.0 617.9 241.5 617.0 243.0 616.1 244.5 615.2 246.0 614.4 247.5 613.7 249.0 613.0 250.5 612.3 252.0 611.7 253.5 611.1 255.0 610.5 256.5 610.0 258.0 609.5 259.5 609.1 261.0 608.7 262.5 608.3 264.0 607.9 265.5 607.5 267.0 607.2 268.5 606.8 270.0 606.5 271.5 606.1 273.0 605.8 274.5 605.5 276.0 605.2 277.5 604.9 279.0 604.6 280.5 604.3 282.0 604.1 283.5 603.8 285.0 603.6 286.5 603.4 288.0 603.2 289.5 603.0 291.0 602.8 292.5 602.7 294.0 602.5 295.5 602.3 297.0 602.2 298.5 602.0 300.0 601.8 301.5 601.7 303.0 601.6 304.5 601.5 306.0 601.5 307.5 601.5 309.0 601.6 310.5 601.6 312.0 601.7 313.5 601.8 315.0 602.0 316.5 602.1 318.0 602.2 319.5 602.3 321.0 602.3 322.5 602.4 324.0 602.4 325.5 602.4 327.0 602.3 328.5 602.1 330.0 602.0 331.5 601.7 333.0 601.5 334.5 601.2 336.0 600.9 337.4 600.5" stroke="#7a10d8" stroke-width="1.25" fill="none" clip-path="url(#cld)" stroke-linejoin="round"/>
<path d="M76.5 718.4 78.0 717.6 79.5 716.9 81.0 716.1 82.5 715.3 84.0 714.5 85.5 713.8 87.0 713.0 88.5 712.2 90.0 711.4 91.5 710.7 93.0 709.9 94.5 709.1 96.0 708.4 97.5 707.6 99.0 706.8 100.5 706.1 102.0 705.3 103.5 704.6 105.0 703.8 106.5 703.1 108.0 702.3 109.5 701.6 111.0 700.8 112.5 700.1 114.0 699.3 115.5 698.6 117.0 697.8 118.5 697.1 120.0 696.4 121.5 695.6 123.0 694.9 124.5 694.2 126.0 693.5 127.5 692.8 129.0 692.1 130.5 691.4 132.0 690.6 133.5 689.9 135.0 689.1 136.5 688.3 138.0 687.5 139.5 686.6 141.0 685.8 142.5 684.9 144.0 684.0 145.5 683.1 147.0 682.1 148.5 681.2 150.0 680.2 151.5 679.2 153.0 678.2 154.5 677.2 156.0 676.2 157.5 675.1 159.0 674.0 160.5 673.0 162.0 671.8 163.5 670.5 165.0 669.1 166.5 667.7 168.0 666.3 169.5 664.8 171.0 663.4 172.5 662.0 174.0 660.5 175.5 659.1 177.0 657.6 178.5 656.1 180.0 654.6 181.5 653.0 183.0 651.3 184.5 649.6 186.0 647.8 187.5 646.0 189.0 644.4 190.5 642.8 192.0 641.3 193.5 640.0 195.0 639.0 196.5 638.2 198.0 637.5 199.5 636.9 201.0 636.4 202.5 635.8 204.0 635.2 205.5 634.6 207.0 634.0 208.5 633.4 210.0 632.9 211.5 632.3 213.0 631.7 214.5 631.0 216.0 630.3 217.5 629.5 219.0 628.7 220.5 627.8 222.0 626.9 223.5 625.9 225.0 625.0 226.5 624.0 228.0 623.0 229.5 622.0 231.0 620.9 232.5 619.8 234.0 618.8 235.5 617.7 237.0 616.6 238.5 615.5 240.0 614.4 241.5 613.3 243.0 612.2 244.5 611.1 246.0 610.1 247.5 609.2 249.0 608.4 250.5 607.7 252.0 607.0 253.5 606.4 255.0 605.9 256.5 605.4 258.0 604.9 259.5 604.5 261.0 604.2 262.5 603.8 264.0 603.4 265.5 603.1 267.0 602.8 268.5 602.5 270.0 602.2 271.5 601.9 273.0 601.6 274.5 601.4 276.0 601.1 277.5 600.9 279.0 600.6 280.5 600.4 282.0 600.2 283.5 599.9 285.0 599.8 286.5 599.6 288.0 599.4 289.5 599.2 291.0 599.1 292.5 598.9 294.0 598.8 295.5 598.6 297.0 598.4 298.5 598.3 300.0 598.1 301.5 597.9 303.0 597.7 304.5 597.6 306.0 597.4 307.5 597.2 309.0 597.0 310.5 596.8 312.0 596.7 313.5 596.5 315.0 596.3 316.5 596.1 318.0 595.9 319.5 595.6 321.0 595.4 322.5 595.1 324.0 594.8 325.5 594.5 327.0 594.1 328.5 593.8 330.0 593.4 331.5 593.0 333.0 592.6 334.5 592.2 336.0 591.8 337.4 591.5" stroke="#1e1e96" stroke-width="1.38" fill="none" clip-path="url(#cld)" stroke-linejoin="round"/>
<line x1="200.45" y1="49.3" x2="200.45" y2="224.9" stroke="#1a1a1a" stroke-width="1.15" stroke-dasharray="5.4 4.84" stroke-dashoffset="0.7"/>
<line x1="200.45" y1="229.4" x2="200.45" y2="395.5" stroke="#1a1a1a" stroke-width="1.15" stroke-dasharray="4.8 5" stroke-dashoffset="5.1"/>
<line x1="200.45" y1="401.5" x2="200.45" y2="568.2" stroke="#1a1a1a" stroke-width="1.15" stroke-dasharray="4.8 5" stroke-dashoffset="5"/>
<line x1="200.45" y1="573.6" x2="200.45" y2="738.8" stroke="#1a1a1a" stroke-width="1.15" stroke-dasharray="4.8 4.95" stroke-dashoffset="5.35"/>
<line x1="120.3" y1="240.5" x2="200.45" y2="240.5" stroke="#1a1a1a" stroke-width="1.2" stroke-dasharray="9.2 3.6" stroke-dashoffset="-6"/>
<line x1="120.3" y1="250.5" x2="200.45" y2="250.5" stroke="#1a1a1a" stroke-width="1.2" stroke-dasharray="9.2 3.6" stroke-dashoffset="-6"/>
<line x1="121.3" y1="240.5" x2="121.3" y2="245.5" stroke="#111" stroke-width="1.2" />
<path d="M118.1 244.9 L124.5 244.9 L121.3 252.3 Z" fill="#111"/>
<line x1="122.4" y1="429.5" x2="200.45" y2="429.5" stroke="#1a1a1a" stroke-width="1.2" stroke-dasharray="9.2 3.6" stroke-dashoffset="-6"/>
<line x1="122.4" y1="445.5" x2="200.45" y2="445.5" stroke="#1a1a1a" stroke-width="1.2" stroke-dasharray="9.2 3.6" stroke-dashoffset="-6"/>
<line x1="123.4" y1="429.5" x2="123.4" y2="440.5" stroke="#111" stroke-width="1.2" />
<path d="M120.2 439.9 L126.6 439.9 L123.4 447.3 Z" fill="#111"/>
<line x1="123" y1="652.5" x2="200.45" y2="652.5" stroke="#1a1a1a" stroke-width="1.2" stroke-dasharray="9.2 3.6" stroke-dashoffset="-6"/>
<line x1="123" y1="670.5" x2="200.45" y2="670.5" stroke="#1a1a1a" stroke-width="1.2" stroke-dasharray="9.2 3.6" stroke-dashoffset="-6"/>
<line x1="124" y1="652.5" x2="124" y2="665.5" stroke="#111" stroke-width="1.2" />
<path d="M120.8 664.9 L127.2 664.9 L124 672.3 Z" fill="#111"/>
<rect x="76.5" y="49.3" width="260.9" height="175.6" fill="none" stroke="#1e1e1e" stroke-width="1.15" />
<line x1="136.71" y1="49.3" x2="136.71" y2="54.3" stroke="#1e1e1e" stroke-width="1.15" />
<line x1="136.71" y1="224.9" x2="136.71" y2="219.9" stroke="#1e1e1e" stroke-width="1.15" />
<line x1="237.05" y1="49.3" x2="237.05" y2="54.3" stroke="#1e1e1e" stroke-width="1.15" />
<line x1="237.05" y1="224.9" x2="237.05" y2="219.9" stroke="#1e1e1e" stroke-width="1.15" />
<line x1="72" y1="99.35" x2="76.5" y2="99.35" stroke="#1e1e1e" stroke-width="1.15" />
<line x1="72" y1="199.9" x2="76.5" y2="199.9" stroke="#1e1e1e" stroke-width="1.15" />
<rect x="76.5" y="229.4" width="260.9" height="166.1" fill="none" stroke="#1e1e1e" stroke-width="1.15" />
<line x1="136.71" y1="229.4" x2="136.71" y2="234.4" stroke="#1e1e1e" stroke-width="1.15" />
<line x1="136.71" y1="395.5" x2="136.71" y2="390.5" stroke="#1e1e1e" stroke-width="1.15" />
<line x1="237.05" y1="229.4" x2="237.05" y2="234.4" stroke="#1e1e1e" stroke-width="1.15" />
<line x1="237.05" y1="395.5" x2="237.05" y2="390.5" stroke="#1e1e1e" stroke-width="1.15" />
<line x1="76.5" y1="261" x2="81.3" y2="261" stroke="#1e1e1e" stroke-width="1.15" />
<line x1="76.5" y1="324.3" x2="81.3" y2="324.3" stroke="#1e1e1e" stroke-width="1.15" />
<line x1="76.5" y1="387.4" x2="81.3" y2="387.4" stroke="#1e1e1e" stroke-width="1.15" />
<rect x="76.5" y="401.5" width="260.9" height="166.7" fill="none" stroke="#1e1e1e" stroke-width="1.15" />
<line x1="136.71" y1="401.5" x2="136.71" y2="406.5" stroke="#1e1e1e" stroke-width="1.15" />
<line x1="136.71" y1="568.2" x2="136.71" y2="563.2" stroke="#1e1e1e" stroke-width="1.15" />
<line x1="237.05" y1="401.5" x2="237.05" y2="406.5" stroke="#1e1e1e" stroke-width="1.15" />
<line x1="237.05" y1="568.2" x2="237.05" y2="563.2" stroke="#1e1e1e" stroke-width="1.15" />
<line x1="76.5" y1="406.9" x2="81.3" y2="406.9" stroke="#1e1e1e" stroke-width="1.15" />
<line x1="76.5" y1="462.5" x2="81.3" y2="462.5" stroke="#1e1e1e" stroke-width="1.15" />
<line x1="76.5" y1="518" x2="81.3" y2="518" stroke="#1e1e1e" stroke-width="1.15" />
<rect x="76.5" y="573.6" width="260.9" height="165.2" fill="none" stroke="#1e1e1e" stroke-width="1.15" />
<line x1="136.71" y1="573.6" x2="136.71" y2="578.6" stroke="#1e1e1e" stroke-width="1.15" />
<line x1="136.71" y1="738.8" x2="136.71" y2="733.8" stroke="#1e1e1e" stroke-width="1.15" />
<line x1="237.05" y1="573.6" x2="237.05" y2="578.6" stroke="#1e1e1e" stroke-width="1.15" />
<line x1="237.05" y1="738.8" x2="237.05" y2="733.8" stroke="#1e1e1e" stroke-width="1.15" />
<line x1="76.5" y1="616.3" x2="81.3" y2="616.3" stroke="#1e1e1e" stroke-width="1.15" />
<line x1="76.5" y1="670" x2="81.3" y2="670" stroke="#1e1e1e" stroke-width="1.15" />
<line x1="76.5" y1="723.5" x2="81.3" y2="723.5" stroke="#1e1e1e" stroke-width="1.15" />
<rect x="430.8" y="45.1" width="252.4" height="170.2" fill="none" stroke="#1e1e1e" stroke-width="1.15" />
<line x1="469.8" y1="45.1" x2="469.8" y2="49.6" stroke="#1e1e1e" stroke-width="1.15" />
<line x1="469.8" y1="215.3" x2="469.8" y2="210.8" stroke="#1e1e1e" stroke-width="1.15" />
<line x1="518.3" y1="45.1" x2="518.3" y2="49.6" stroke="#1e1e1e" stroke-width="1.15" />
<line x1="518.3" y1="215.3" x2="518.3" y2="210.8" stroke="#1e1e1e" stroke-width="1.15" />
<line x1="566.8" y1="45.1" x2="566.8" y2="49.6" stroke="#1e1e1e" stroke-width="1.15" />
<line x1="566.8" y1="215.3" x2="566.8" y2="210.8" stroke="#1e1e1e" stroke-width="1.15" />
<line x1="615.3" y1="45.1" x2="615.3" y2="49.6" stroke="#1e1e1e" stroke-width="1.15" />
<line x1="615.3" y1="215.3" x2="615.3" y2="210.8" stroke="#1e1e1e" stroke-width="1.15" />
<line x1="663.8" y1="45.1" x2="663.8" y2="49.6" stroke="#1e1e1e" stroke-width="1.15" />
<line x1="663.8" y1="215.3" x2="663.8" y2="210.8" stroke="#1e1e1e" stroke-width="1.15" />
<line x1="430.8" y1="45.1" x2="435.3" y2="45.1" stroke="#1e1e1e" stroke-width="1.15" />
<line x1="430.8" y1="122.5" x2="435.3" y2="122.5" stroke="#1e1e1e" stroke-width="1.15" />
<line x1="430.8" y1="200" x2="435.3" y2="200" stroke="#1e1e1e" stroke-width="1.15" />
<rect x="430.8" y="218.2" width="252.4" height="173.3" fill="none" stroke="#1e1e1e" stroke-width="1.15" />
<line x1="469.8" y1="218.2" x2="469.8" y2="222.7" stroke="#1e1e1e" stroke-width="1.15" />
<line x1="469.8" y1="391.5" x2="469.8" y2="387" stroke="#1e1e1e" stroke-width="1.15" />
<line x1="518.3" y1="218.2" x2="518.3" y2="222.7" stroke="#1e1e1e" stroke-width="1.15" />
<line x1="518.3" y1="391.5" x2="518.3" y2="387" stroke="#1e1e1e" stroke-width="1.15" />
<line x1="566.8" y1="218.2" x2="566.8" y2="222.7" stroke="#1e1e1e" stroke-width="1.15" />
<line x1="566.8" y1="391.5" x2="566.8" y2="387" stroke="#1e1e1e" stroke-width="1.15" />
<line x1="615.3" y1="218.2" x2="615.3" y2="222.7" stroke="#1e1e1e" stroke-width="1.15" />
<line x1="615.3" y1="391.5" x2="615.3" y2="387" stroke="#1e1e1e" stroke-width="1.15" />
<line x1="663.8" y1="218.2" x2="663.8" y2="222.7" stroke="#1e1e1e" stroke-width="1.15" />
<line x1="663.8" y1="391.5" x2="663.8" y2="387" stroke="#1e1e1e" stroke-width="1.15" />
<line x1="430.8" y1="278" x2="435.3" y2="278" stroke="#1e1e1e" stroke-width="1.15" />
<line x1="430.8" y1="353.8" x2="435.3" y2="353.8" stroke="#1e1e1e" stroke-width="1.15" />
<rect x="430.8" y="394.45" width="252.4" height="173.75" fill="none" stroke="#1e1e1e" stroke-width="1.15" />
<line x1="469.8" y1="394.45" x2="469.8" y2="398.95" stroke="#1e1e1e" stroke-width="1.15" />
<line x1="469.8" y1="568.2" x2="469.8" y2="563.7" stroke="#1e1e1e" stroke-width="1.15" />
<line x1="518.3" y1="394.45" x2="518.3" y2="398.95" stroke="#1e1e1e" stroke-width="1.15" />
<line x1="518.3" y1="568.2" x2="518.3" y2="563.7" stroke="#1e1e1e" stroke-width="1.15" />
<line x1="566.8" y1="394.45" x2="566.8" y2="398.95" stroke="#1e1e1e" stroke-width="1.15" />
<line x1="566.8" y1="568.2" x2="566.8" y2="563.7" stroke="#1e1e1e" stroke-width="1.15" />
<line x1="615.3" y1="394.45" x2="615.3" y2="398.95" stroke="#1e1e1e" stroke-width="1.15" />
<line x1="615.3" y1="568.2" x2="615.3" y2="563.7" stroke="#1e1e1e" stroke-width="1.15" />
<line x1="663.8" y1="394.45" x2="663.8" y2="398.95" stroke="#1e1e1e" stroke-width="1.15" />
<line x1="663.8" y1="568.2" x2="663.8" y2="563.7" stroke="#1e1e1e" stroke-width="1.15" />
<line x1="430.8" y1="424.5" x2="435.3" y2="424.5" stroke="#1e1e1e" stroke-width="1.15" />
<line x1="430.8" y1="475.8" x2="435.3" y2="475.8" stroke="#1e1e1e" stroke-width="1.15" />
<line x1="430.8" y1="527.3" x2="435.3" y2="527.3" stroke="#1e1e1e" stroke-width="1.15" />
<rect x="430.8" y="571.2" width="252.4" height="173.1" fill="none" stroke="#1e1e1e" stroke-width="1.15" />
<line x1="469.8" y1="571.2" x2="469.8" y2="575.7" stroke="#1e1e1e" stroke-width="1.15" />
<line x1="469.8" y1="744.3" x2="469.8" y2="739.8" stroke="#1e1e1e" stroke-width="1.15" />
<line x1="518.3" y1="571.2" x2="518.3" y2="575.7" stroke="#1e1e1e" stroke-width="1.15" />
<line x1="518.3" y1="744.3" x2="518.3" y2="739.8" stroke="#1e1e1e" stroke-width="1.15" />
<line x1="566.8" y1="571.2" x2="566.8" y2="575.7" stroke="#1e1e1e" stroke-width="1.15" />
<line x1="566.8" y1="744.3" x2="566.8" y2="739.8" stroke="#1e1e1e" stroke-width="1.15" />
<line x1="615.3" y1="571.2" x2="615.3" y2="575.7" stroke="#1e1e1e" stroke-width="1.15" />
<line x1="615.3" y1="744.3" x2="615.3" y2="739.8" stroke="#1e1e1e" stroke-width="1.15" />
<line x1="663.8" y1="571.2" x2="663.8" y2="575.7" stroke="#1e1e1e" stroke-width="1.15" />
<line x1="663.8" y1="744.3" x2="663.8" y2="739.8" stroke="#1e1e1e" stroke-width="1.15" />
<line x1="430.8" y1="583.8" x2="435.3" y2="583.8" stroke="#1e1e1e" stroke-width="1.15" />
<line x1="430.8" y1="650.8" x2="435.3" y2="650.8" stroke="#1e1e1e" stroke-width="1.15" />
<line x1="430.8" y1="717.5" x2="435.3" y2="717.5" stroke="#1e1e1e" stroke-width="1.15" />
<text x="68.62" y="104.54" font-size="18" text-anchor="end" fill="#000" stroke="#000" stroke-width="0.28" >2.4</text>
<text x="68.8" y="205.09" font-size="18" text-anchor="end" fill="#000" stroke="#000" stroke-width="0.28" >2.0</text>
<text x="70.97" y="265.99" font-size="17.4" text-anchor="end" fill="#000" stroke="#000" stroke-width="0.28" >1.2</text>
<text x="70.85" y="329.29" font-size="17.4" text-anchor="end" fill="#000" stroke="#000" stroke-width="0.28" >0.8</text>
<text x="70.6" y="392.39" font-size="17.4" text-anchor="end" fill="#000" stroke="#000" stroke-width="0.28" >0.4</text>
<text x="70.95" y="411.89" font-size="17.4" text-anchor="end" fill="#000" stroke="#000" stroke-width="0.28" >0.8</text>
<text x="70.97" y="467.49" font-size="17.4" text-anchor="end" fill="#000" stroke="#000" stroke-width="0.28" >0.6</text>
<text x="70.7" y="522.99" font-size="17.4" text-anchor="end" fill="#000" stroke="#000" stroke-width="0.28" >0.4</text>
<text x="72.37" y="621.29" font-size="17.4" text-anchor="end" fill="#000" stroke="#000" stroke-width="0.28" >0.3</text>
<text x="72.47" y="674.99" font-size="17.4" text-anchor="end" fill="#000" stroke="#000" stroke-width="0.28" >0.2</text>
<text x="72.45" y="728.49" font-size="17.4" text-anchor="end" fill="#000" stroke="#000" stroke-width="0.28" >0.1</text>
<text x="136.71" y="40" font-size="18" text-anchor="middle" fill="#000" stroke="#000" stroke-width="0.28" >2.0</text>
<text x="136.71" y="756.8" font-size="18" text-anchor="middle" fill="#000" stroke="#000" stroke-width="0.28" >2.0</text>
<text x="237.05" y="40" font-size="18" text-anchor="middle" fill="#000" stroke="#000" stroke-width="0.28" >2.5</text>
<text x="237.05" y="756.8" font-size="18" text-anchor="middle" fill="#000" stroke="#000" stroke-width="0.28" >2.5</text>
<text x="337.4" y="40" font-size="18" text-anchor="middle" fill="#000" stroke="#000" stroke-width="0.28" >3.0</text>
<text x="337.4" y="756.8" font-size="18" text-anchor="middle" fill="#000" stroke="#000" stroke-width="0.28" >3.0</text>
<text x="207.2" y="15.2" font-size="17.6" text-anchor="middle" fill="#000" stroke="#000" stroke-width="0.28" >Energy (eV)</text>
<text x="206.8" y="773.2" font-size="17.3" text-anchor="middle" fill="#000" stroke="#000" stroke-width="0.28" >Energy (eV)</text>
<text x="30.1" y="130.6" font-size="17.6" text-anchor="middle" fill="#000" stroke="#000" stroke-width="0.28" transform="rotate(-90 30.1 130.6)" textLength="127.3" lengthAdjust="spacingAndGlyphs" >Absorption (a.u.)</text>
<text x="40.7" y="308" font-size="15.6" text-anchor="middle" fill="#000" stroke="#000" stroke-width="0.28" transform="rotate(-90 40.7 308)" textLength="82.5" lengthAdjust="spacingAndGlyphs" >ΔR/R (a.u.)</text>
<text x="40" y="480.3" font-size="15.6" text-anchor="middle" fill="#000" stroke="#000" stroke-width="0.28" transform="rotate(-90 40 480.3)" textLength="84.5" lengthAdjust="spacingAndGlyphs" >ΔR/R (a.u.)</text>
<text x="42.6" y="655.5" font-size="15.6" text-anchor="middle" fill="#000" stroke="#000" stroke-width="0.28" transform="rotate(-90 42.6 655.5)" textLength="84" lengthAdjust="spacingAndGlyphs" >ΔR/R (a.u.)</text>
<text x="-0.6" y="37.5" font-size="21.5" text-anchor="start" fill="#000" stroke="#000" stroke-width="0.28" >a</text>
<text x="-0.6" y="246.4" font-size="21.5" text-anchor="start" fill="#000" stroke="#000" stroke-width="0.28" >b</text>
<text x="0.2" y="404.3" font-size="21.5" text-anchor="start" fill="#000" stroke="#000" stroke-width="0.28" >c</text>
<text x="-0.6" y="579.6" font-size="21.5" text-anchor="start" fill="#000" stroke="#000" stroke-width="0.28" >d</text>
<text x="360.5" y="27.6" font-size="21.5" text-anchor="start" fill="#000" stroke="#000" stroke-width="0.28" >e</text>
<text x="360" y="228.4" font-size="21.5" text-anchor="start" fill="#000" stroke="#000" stroke-width="0.28" >f</text>
<text x="360.5" y="409.6" font-size="21.5" text-anchor="start" fill="#000" stroke="#000" stroke-width="0.28" >g</text>
<text x="362" y="577.6" font-size="20.8" text-anchor="start" fill="#000" stroke="#000" stroke-width="0.28" >h</text>
<text x="222" y="136.6" font-size="17.6" text-anchor="start" fill="#15348e" stroke="#15348e" stroke-width="0.28" >80 K</text>
<line x1="263.8" y1="133.3" x2="279.5" y2="133.3" stroke="#1a1a1a" stroke-width="1.1" />
<path d="M274.9 129 Q277.1 131.9 280.3 133.3 Q277.1 134.7 274.9 137.6" fill="none" stroke="#111" stroke-width="1.5" stroke-linecap="round"/>
<text x="285.6" y="136.6" font-size="17.6" text-anchor="start" fill="#c8102e" stroke="#c8102e" stroke-width="0.28" >300 K</text>
<text x="217.6" y="180" font-size="17.6" text-anchor="start" fill="#000" stroke="#000" stroke-width="0.28" >Bulk Warm up</text>
<text x="222.8" y="272.3" font-size="17.6" text-anchor="start" fill="#000" stroke="#000" stroke-width="0.28" >13L Warm up</text>
<text x="227.4" y="371" font-size="17.3" text-anchor="start" fill="#15348e" stroke="#15348e" stroke-width="0.28" >87 K</text>
<line x1="268" y1="366.6" x2="282.7" y2="366.6" stroke="#1a1a1a" stroke-width="1.1" />
<path d="M278.1 362.3 Q280.3 365.2 283.5 366.6 Q280.3 368 278.1 370.9" fill="none" stroke="#111" stroke-width="1.5" stroke-linecap="round"/>
<text x="284.6" y="371" font-size="17.3" text-anchor="start" fill="#c8102e" stroke="#c8102e" stroke-width="0.28" >300 K</text>
<text x="230.9" y="516" font-size="17.3" text-anchor="start" fill="#15348e" stroke="#15348e" stroke-width="0.28" >87 K</text>
<line x1="271.1" y1="511.2" x2="286" y2="511.2" stroke="#1a1a1a" stroke-width="1.1" />
<path d="M281.4 506.9 Q283.6 509.8 286.8 511.2 Q283.6 512.6 281.4 515.5" fill="none" stroke="#111" stroke-width="1.5" stroke-linecap="round"/>
<text x="287.2" y="516" font-size="17.3" text-anchor="start" fill="#c8102e" stroke="#c8102e" stroke-width="0.28" >300 K</text>
<text x="222.8" y="546.6" font-size="17.6" text-anchor="start" fill="#000" stroke="#000" stroke-width="0.28" >10L Warm up</text>
<text x="228.4" y="682.6" font-size="17.3" text-anchor="start" fill="#15348e" stroke="#15348e" stroke-width="0.28" >87 K</text>
<line x1="268" y1="677.6" x2="283.1" y2="677.6" stroke="#1a1a1a" stroke-width="1.1" />
<path d="M278.5 673.3 Q280.7 676.2 283.9 677.6 Q280.7 679 278.5 681.9" fill="none" stroke="#111" stroke-width="1.5" stroke-linecap="round"/>
<text x="284.6" y="682.6" font-size="17.3" text-anchor="start" fill="#c8102e" stroke="#c8102e" stroke-width="0.28" >300 K</text>
<text x="227.2" y="711.7" font-size="17.6" text-anchor="start" fill="#000" stroke="#000" stroke-width="0.28" >5L Warm up</text>
<text x="425.61" y="50.05" font-size="17" text-anchor="end" fill="#000" stroke="#000" stroke-width="0.28" >2.55</text>
<text x="425.56" y="127.45" font-size="17" text-anchor="end" fill="#000" stroke="#000" stroke-width="0.28" >2.50</text>
<text x="425.61" y="204.95" font-size="17" text-anchor="end" fill="#000" stroke="#000" stroke-width="0.28" >2.45</text>
<text x="425.65" y="282.95" font-size="17" text-anchor="end" fill="#000" stroke="#000" stroke-width="0.28" >1.3</text>
<text x="425.75" y="358.75" font-size="17" text-anchor="end" fill="#000" stroke="#000" stroke-width="0.28" >1.2</text>
<text x="425.61" y="429.45" font-size="17" text-anchor="end" fill="#000" stroke="#000" stroke-width="0.28" >0.75</text>
<text x="425.56" y="480.75" font-size="17" text-anchor="end" fill="#000" stroke="#000" stroke-width="0.28" >0.70</text>
<text x="425.61" y="532.25" font-size="17" text-anchor="end" fill="#000" stroke="#000" stroke-width="0.28" >0.65</text>
<text x="425.56" y="588.75" font-size="17" text-anchor="end" fill="#000" stroke="#000" stroke-width="0.28" >0.30</text>
<text x="425.61" y="655.75" font-size="17" text-anchor="end" fill="#000" stroke="#000" stroke-width="0.28" >0.25</text>
<text x="425.56" y="722.45" font-size="17" text-anchor="end" fill="#000" stroke="#000" stroke-width="0.28" >0.20</text>
<text x="469.8" y="36" font-size="16.2" text-anchor="middle" fill="#000" stroke="#000" stroke-width="0.28" >100</text>
<text x="469.8" y="762.7" font-size="16.2" text-anchor="middle" fill="#000" stroke="#000" stroke-width="0.28" >100</text>
<text x="518.3" y="36" font-size="16.2" text-anchor="middle" fill="#000" stroke="#000" stroke-width="0.28" >150</text>
<text x="518.3" y="762.7" font-size="16.2" text-anchor="middle" fill="#000" stroke="#000" stroke-width="0.28" >150</text>
<text x="566.8" y="36" font-size="16.2" text-anchor="middle" fill="#000" stroke="#000" stroke-width="0.28" >200</text>
<text x="566.8" y="762.7" font-size="16.2" text-anchor="middle" fill="#000" stroke="#000" stroke-width="0.28" >200</text>
<text x="615.3" y="36" font-size="16.2" text-anchor="middle" fill="#000" stroke="#000" stroke-width="0.28" >250</text>
<text x="615.3" y="762.7" font-size="16.2" text-anchor="middle" fill="#000" stroke="#000" stroke-width="0.28" >250</text>
<text x="663.8" y="36" font-size="16.2" text-anchor="middle" fill="#000" stroke="#000" stroke-width="0.28" >300</text>
<text x="663.8" y="762.7" font-size="16.2" text-anchor="middle" fill="#000" stroke="#000" stroke-width="0.28" >300</text>
<text x="556.7" y="11.9" font-size="16.3" text-anchor="middle" fill="#000" stroke="#000" stroke-width="0.28" >Temperature (K)</text>
<text x="558" y="787.6" font-size="16.8" text-anchor="middle" fill="#000" stroke="#000" stroke-width="0.28" >Temperature (K)</text>
<text x="388.6" y="128.2" font-size="16.4" text-anchor="middle" fill="#000" stroke="#000" stroke-width="0.28" transform="rotate(-90 388.6 128.2)" textLength="151.3" lengthAdjust="spacingAndGlyphs" >Abs @ 535 nm (a.u.)</text>
<text x="395.3" y="304.5" font-size="15.8" text-anchor="middle" fill="#000" stroke="#000" stroke-width="0.28" transform="rotate(-90 395.3 304.5)" textLength="164.5" lengthAdjust="spacingAndGlyphs" >ΔR/R @ 532 nm (a.u.)</text>
<text x="386" y="480.8" font-size="15.8" text-anchor="middle" fill="#000" stroke="#000" stroke-width="0.28" transform="rotate(-90 386 480.8)" textLength="165" lengthAdjust="spacingAndGlyphs" >ΔR/R @ 535 nm (a.u.)</text>
<text x="387" y="657" font-size="15.8" text-anchor="middle" fill="#000" stroke="#000" stroke-width="0.28" transform="rotate(-90 387 657)" textLength="165.5" lengthAdjust="spacingAndGlyphs" >ΔR/R @ 535 nm (a.u.)</text>
<text x="620" y="155.8" font-size="17.2" text-anchor="start" fill="#000" stroke="#000" stroke-width="0.28" >Bulk</text>
<text x="631" y="328.6" font-size="17.2" text-anchor="start" fill="#000" stroke="#000" stroke-width="0.28" >13L</text>
<text x="631" y="496.8" font-size="17.2" text-anchor="start" fill="#000" stroke="#000" stroke-width="0.28" >10L</text>
<text x="446.4" y="707.4" font-size="17.2" text-anchor="start" fill="#000" stroke="#000" stroke-width="0.28" >5L</text>
<rect x="438.55" y="75.85" width="3.9" height="3.9" fill="#0c4cac" stroke="none" stroke-width="0" />
<rect x="448.05" y="96.75" width="3.9" height="3.9" fill="#0c4cac" stroke="none" stroke-width="0" />
<rect x="457.95" y="96.05" width="3.9" height="3.9" fill="#0c4cac" stroke="none" stroke-width="0" />
<rect x="467.45" y="111.75" width="3.9" height="3.9" fill="#0c4cac" stroke="none" stroke-width="0" />
<rect x="468.95" y="112.75" width="3.9" height="3.9" fill="#0c4cac" stroke="none" stroke-width="0" />
<rect x="469.95" y="114.25" width="3.9" height="3.9" fill="#0c4cac" stroke="none" stroke-width="0" />
<rect x="471.45" y="116.75" width="3.9" height="3.9" fill="#0c4cac" stroke="none" stroke-width="0" />
<rect x="470.35" y="122.25" width="3.9" height="3.9" fill="#0c4cac" stroke="none" stroke-width="0" />
<rect x="473.35" y="124.05" width="3.9" height="3.9" fill="#0c4cac" stroke="none" stroke-width="0" />
<rect x="472.25" y="126.95" width="3.9" height="3.9" fill="#0c4cac" stroke="none" stroke-width="0" />
<rect x="474.45" y="132.25" width="3.9" height="3.9" fill="#0c4cac" stroke="none" stroke-width="0" />
<rect x="477.95" y="133.25" width="3.9" height="3.9" fill="#0c4cac" stroke="none" stroke-width="0" />
<rect x="475.45" y="138.35" width="3.9" height="3.9" fill="#0c4cac" stroke="none" stroke-width="0" />
<rect x="481.65" y="136.55" width="3.9" height="3.9" fill="#0c4cac" stroke="none" stroke-width="0" />
<rect x="477.65" y="142.45" width="3.9" height="3.9" fill="#0c4cac" stroke="none" stroke-width="0" />
<rect x="479.15" y="145.65" width="3.9" height="3.9" fill="#0c4cac" stroke="none" stroke-width="0" />
<rect x="482.05" y="144.15" width="3.9" height="3.9" fill="#0c4cac" stroke="none" stroke-width="0" />
<rect x="485.75" y="148.55" width="3.9" height="3.9" fill="#0c4cac" stroke="none" stroke-width="0" />
<rect x="488.65" y="140.55" width="3.9" height="3.9" fill="#0c4cac" stroke="none" stroke-width="0" />
<rect x="491.15" y="145.35" width="3.9" height="3.9" fill="#0c4cac" stroke="none" stroke-width="0" />
<rect x="496.65" y="146.35" width="3.9" height="3.9" fill="#0c4cac" stroke="none" stroke-width="0" />
<rect x="506.15" y="152.25" width="3.9" height="3.9" fill="#0c4cac" stroke="none" stroke-width="0" />
<rect x="516.15" y="156.15" width="3.9" height="3.9" fill="#0c4cac" stroke="none" stroke-width="0" />
<rect x="525.85" y="162.85" width="3.9" height="3.9" fill="#0c4cac" stroke="none" stroke-width="0" />
<rect x="535.85" y="169.65" width="3.9" height="3.9" fill="#0c4cac" stroke="none" stroke-width="0" />
<rect x="545.35" y="162.05" width="3.9" height="3.9" fill="#0c4cac" stroke="none" stroke-width="0" />
<rect x="555.05" y="171.55" width="3.9" height="3.9" fill="#0c4cac" stroke="none" stroke-width="0" />
<rect x="564.45" y="178.25" width="3.9" height="3.9" fill="#0c4cac" stroke="none" stroke-width="0" />
<rect x="588.75" y="175.05" width="3.9" height="3.9" fill="#0c4cac" stroke="none" stroke-width="0" />
<rect x="613.05" y="176.35" width="3.9" height="3.9" fill="#0c4cac" stroke="none" stroke-width="0" />
<rect x="637.15" y="191.75" width="3.9" height="3.9" fill="#0c4cac" stroke="none" stroke-width="0" />
<rect x="438.55" y="89.05" width="3.9" height="3.9" fill="#c20818" stroke="none" stroke-width="0" />
<rect x="448.05" y="98.65" width="3.9" height="3.9" fill="#c20818" stroke="none" stroke-width="0" />
<rect x="457.95" y="86.85" width="3.9" height="3.9" fill="#c20818" stroke="none" stroke-width="0" />
<rect x="467.45" y="106.95" width="3.9" height="3.9" fill="#c20818" stroke="none" stroke-width="0" />
<rect x="477.25" y="116.15" width="3.9" height="3.9" fill="#c20818" stroke="none" stroke-width="0" />
<rect x="482.05" y="127.65" width="3.9" height="3.9" fill="#c20818" stroke="none" stroke-width="0" />
<rect x="483.05" y="140.85" width="3.9" height="3.9" fill="#c20818" stroke="none" stroke-width="0" />
<rect x="488.95" y="141.55" width="3.9" height="3.9" fill="#c20818" stroke="none" stroke-width="0" />
<rect x="484.25" y="147.35" width="3.9" height="3.9" fill="#c20818" stroke="none" stroke-width="0" />
<rect x="487.15" y="147.35" width="3.9" height="3.9" fill="#c20818" stroke="none" stroke-width="0" />
<rect x="492.75" y="147.15" width="3.9" height="3.9" fill="#c20818" stroke="none" stroke-width="0" />
<rect x="486.05" y="153.65" width="3.9" height="3.9" fill="#c20818" stroke="none" stroke-width="0" />
<rect x="490.85" y="152.95" width="3.9" height="3.9" fill="#c20818" stroke="none" stroke-width="0" />
<rect x="496.65" y="151.15" width="3.9" height="3.9" fill="#c20818" stroke="none" stroke-width="0" />
<rect x="494.75" y="157.95" width="3.9" height="3.9" fill="#c20818" stroke="none" stroke-width="0" />
<rect x="484.95" y="159.05" width="3.9" height="3.9" fill="#c20818" stroke="none" stroke-width="0" />
<rect x="506.35" y="152.75" width="3.9" height="3.9" fill="#c20818" stroke="none" stroke-width="0" />
<rect x="516.15" y="159.85" width="3.9" height="3.9" fill="#c20818" stroke="none" stroke-width="0" />
<rect x="540.45" y="162.55" width="3.9" height="3.9" fill="#c20818" stroke="none" stroke-width="0" />
<rect x="564.45" y="163.45" width="3.9" height="3.9" fill="#c20818" stroke="none" stroke-width="0" />
<rect x="588.75" y="165.85" width="3.9" height="3.9" fill="#c20818" stroke="none" stroke-width="0" />
<rect x="613.05" y="171.25" width="3.9" height="3.9" fill="#c20818" stroke="none" stroke-width="0" />
<rect x="637.15" y="177.15" width="3.9" height="3.9" fill="#c20818" stroke="none" stroke-width="0" />
<rect x="561.9" y="72.9" width="4" height="4" fill="#0c4cac" stroke="none" stroke-width="0" />
<rect x="561.9" y="92.6" width="4" height="4" fill="#c20818" stroke="none" stroke-width="0" />
<text x="586.2" y="80.8" font-size="16.3" text-anchor="start" fill="#000" stroke="#000" stroke-width="0.28" >Cooling</text>
<text x="586.2" y="100" font-size="16.3" text-anchor="start" fill="#000" stroke="#000" stroke-width="0.28" >Warming</text>
<line x1="456.6" y1="264" x2="456.6" y2="277" stroke="#d85a5a" stroke-width="1.1" />
<line x1="469.3" y1="259" x2="469.3" y2="265" stroke="#d85a5a" stroke-width="1.1" />
<line x1="488.8" y1="262.8" x2="488.8" y2="275.3" stroke="#d85a5a" stroke-width="1.1" />
<line x1="508.2" y1="258.3" x2="508.2" y2="278.2" stroke="#d85a5a" stroke-width="1.1" />
<line x1="527.7" y1="246.9" x2="527.7" y2="267.2" stroke="#d85a5a" stroke-width="1.1" />
<line x1="547.3" y1="297" x2="547.3" y2="306" stroke="#d85a5a" stroke-width="1.1" />
<line x1="566.8" y1="302.5" x2="566.8" y2="310" stroke="#d85a5a" stroke-width="1.1" />
<line x1="586.1" y1="308" x2="586.1" y2="317.3" stroke="#d85a5a" stroke-width="1.1" />
<line x1="605.5" y1="330" x2="605.5" y2="337" stroke="#d85a5a" stroke-width="1.1" />
<line x1="624.8" y1="341" x2="624.8" y2="349" stroke="#d85a5a" stroke-width="1.1" />
<line x1="658.6" y1="362.7" x2="658.6" y2="372" stroke="#d85a5a" stroke-width="1.1" />
<line x1="456.6" y1="245.9" x2="456.6" y2="270" stroke="#5b8fd2" stroke-width="1.1" />
<line x1="456.6" y1="278" x2="456.6" y2="288" stroke="#5b8fd2" stroke-width="1.1" />
<line x1="469.3" y1="292.8" x2="469.3" y2="304.6" stroke="#5b8fd2" stroke-width="1.1" />
<line x1="488.8" y1="301.3" x2="488.8" y2="320" stroke="#5b8fd2" stroke-width="1.1" />
<line x1="508.2" y1="320" x2="508.2" y2="344.5" stroke="#5b8fd2" stroke-width="1.1" />
<line x1="547.3" y1="277.6" x2="547.3" y2="298.5" stroke="#5b8fd2" stroke-width="1.1" />
<line x1="586.1" y1="292.3" x2="586.1" y2="306" stroke="#5b8fd2" stroke-width="1.1" />
<line x1="624.8" y1="341.5" x2="624.8" y2="351" stroke="#5b8fd2" stroke-width="1.1" />
<line x1="658.6" y1="363.9" x2="658.6" y2="378.6" stroke="#5b8fd2" stroke-width="1.1" />
<polyline points="456.6,283.3 469.3,298.9 488.8,310.8 508.2,332.8 547.3,290.5 586.1,302.5 624.8,346.4 658.6,371.4" fill="none" stroke="#5b8fd2" stroke-width="1.1" stroke-linejoin="round"/>
<polyline points="456.6,270.4 469.3,262.1 488.8,269.5 508.2,268.7 527.7,257.5 547.3,301.7 566.8,305.5 586.1,312.7 605.5,333.6 624.8,345.2 658.6,368.4" fill="none" stroke="#d85a5a" stroke-width="1.1" stroke-linejoin="round"/>
<rect x="453.6" y="280.3" width="6" height="6" fill="#0c4cac" stroke="none" stroke-width="0" />
<rect x="466.3" y="295.9" width="6" height="6" fill="#0c4cac" stroke="none" stroke-width="0" />
<rect x="485.8" y="307.8" width="6" height="6" fill="#0c4cac" stroke="none" stroke-width="0" />
<rect x="505.2" y="329.8" width="6" height="6" fill="#0c4cac" stroke="none" stroke-width="0" />
<rect x="544.3" y="287.5" width="6" height="6" fill="#0c4cac" stroke="none" stroke-width="0" />
<rect x="583.1" y="299.5" width="6" height="6" fill="#0c4cac" stroke="none" stroke-width="0" />
<rect x="621.8" y="343.4" width="6" height="6" fill="#0c4cac" stroke="none" stroke-width="0" />
<rect x="655.6" y="368.4" width="6" height="6" fill="#0c4cac" stroke="none" stroke-width="0" />
<rect x="453.6" y="255.3" width="6" height="6" fill="#0c4cac" stroke="none" stroke-width="0" />
<rect x="453.6" y="267.4" width="6" height="6" fill="#c20818" stroke="none" stroke-width="0" />
<rect x="466.3" y="259.1" width="6" height="6" fill="#c20818" stroke="none" stroke-width="0" />
<rect x="485.8" y="266.5" width="6" height="6" fill="#c20818" stroke="none" stroke-width="0" />
<rect x="505.2" y="265.7" width="6" height="6" fill="#c20818" stroke="none" stroke-width="0" />
<rect x="524.7" y="254.5" width="6" height="6" fill="#c20818" stroke="none" stroke-width="0" />
<rect x="544.3" y="298.7" width="6" height="6" fill="#c20818" stroke="none" stroke-width="0" />
<rect x="563.8" y="302.5" width="6" height="6" fill="#c20818" stroke="none" stroke-width="0" />
<rect x="583.1" y="309.7" width="6" height="6" fill="#c20818" stroke="none" stroke-width="0" />
<rect x="602.5" y="330.6" width="6" height="6" fill="#c20818" stroke="none" stroke-width="0" />
<rect x="621.8" y="342.2" width="6" height="6" fill="#c20818" stroke="none" stroke-width="0" />
<rect x="655.6" y="365.4" width="6" height="6" fill="#c20818" stroke="none" stroke-width="0" />
<line x1="456.5" y1="440.4" x2="456.5" y2="452" stroke="#d85a5a" stroke-width="1.1" />
<line x1="469.2" y1="414.4" x2="469.2" y2="452.7" stroke="#d85a5a" stroke-width="1.1" />
<line x1="488.8" y1="434" x2="488.8" y2="472.7" stroke="#d85a5a" stroke-width="1.1" />
<line x1="508.1" y1="408.3" x2="508.1" y2="447.6" stroke="#d85a5a" stroke-width="1.1" />
<line x1="527.7" y1="410.2" x2="527.7" y2="446.1" stroke="#d85a5a" stroke-width="1.1" />
<line x1="547.3" y1="432.3" x2="547.3" y2="475.9" stroke="#d85a5a" stroke-width="1.1" />
<line x1="566.8" y1="453.2" x2="566.8" y2="510" stroke="#d85a5a" stroke-width="1.1" />
<line x1="586.1" y1="495.9" x2="586.1" y2="512.7" stroke="#d85a5a" stroke-width="1.1" />
<line x1="605.5" y1="498" x2="605.5" y2="527.5" stroke="#d85a5a" stroke-width="1.1" />
<line x1="658.6" y1="541.8" x2="658.6" y2="550.9" stroke="#d85a5a" stroke-width="1.1" />
<line x1="456.5" y1="452.5" x2="456.5" y2="462.8" stroke="#5b8fd2" stroke-width="1.1" />
<line x1="469.2" y1="455.6" x2="469.2" y2="491.3" stroke="#5b8fd2" stroke-width="1.1" />
<line x1="488.8" y1="475.1" x2="488.8" y2="510.6" stroke="#5b8fd2" stroke-width="1.1" />
<line x1="508.1" y1="496.6" x2="508.1" y2="516.5" stroke="#5b8fd2" stroke-width="1.1" />
<line x1="547.3" y1="478.9" x2="547.3" y2="512.3" stroke="#5b8fd2" stroke-width="1.1" />
<line x1="586.1" y1="497" x2="586.1" y2="508" stroke="#5b8fd2" stroke-width="1.1" />
<line x1="624.8" y1="509.5" x2="624.8" y2="531.6" stroke="#5b8fd2" stroke-width="1.1" />
<line x1="658.6" y1="528.6" x2="658.6" y2="545" stroke="#5b8fd2" stroke-width="1.1" />
<polyline points="456.5,458.2 469.2,473.8 488.8,493.2 508.1,506.4 547.3,495.9 566.8,498.6 586.1,502.7 605.5,512 624.8,520.9 658.6,536.8" fill="none" stroke="#5b8fd2" stroke-width="1.1" stroke-linejoin="round"/>
<polyline points="456.5,447.6 469.2,434 488.8,453.7 508.1,428.3 527.7,428.6 547.3,455 566.8,461.6 566.8,498.6 586.1,504.3 605.5,513 658.6,545.2" fill="none" stroke="#d85a5a" stroke-width="1.1" stroke-linejoin="round"/>
<rect x="453.5" y="455.2" width="6" height="6" fill="#0c4cac" stroke="none" stroke-width="0" />
<rect x="466.2" y="470.8" width="6" height="6" fill="#0c4cac" stroke="none" stroke-width="0" />
<rect x="485.8" y="490.2" width="6" height="6" fill="#0c4cac" stroke="none" stroke-width="0" />
<rect x="505.1" y="503.4" width="6" height="6" fill="#0c4cac" stroke="none" stroke-width="0" />
<rect x="544.3" y="492.9" width="6" height="6" fill="#0c4cac" stroke="none" stroke-width="0" />
<rect x="563.8" y="495.6" width="6" height="6" fill="#0c4cac" stroke="none" stroke-width="0" />
<rect x="583.1" y="499.7" width="6" height="6" fill="#0c4cac" stroke="none" stroke-width="0" />
<rect x="602.5" y="509" width="6" height="6" fill="#0c4cac" stroke="none" stroke-width="0" />
<rect x="621.8" y="517.9" width="6" height="6" fill="#0c4cac" stroke="none" stroke-width="0" />
<rect x="655.6" y="533.8" width="6" height="6" fill="#0c4cac" stroke="none" stroke-width="0" />
<rect x="453.5" y="444.6" width="6" height="6" fill="#c20818" stroke="none" stroke-width="0" />
<rect x="466.2" y="431" width="6" height="6" fill="#c20818" stroke="none" stroke-width="0" />
<rect x="485.8" y="450.7" width="6" height="6" fill="#c20818" stroke="none" stroke-width="0" />
<rect x="505.1" y="425.3" width="6" height="6" fill="#c20818" stroke="none" stroke-width="0" />
<rect x="524.7" y="425.6" width="6" height="6" fill="#c20818" stroke="none" stroke-width="0" />
<rect x="544.3" y="452" width="6" height="6" fill="#c20818" stroke="none" stroke-width="0" />
<rect x="563.8" y="458.6" width="6" height="6" fill="#c20818" stroke="none" stroke-width="0" />
<rect x="563.8" y="495.6" width="6" height="6" fill="#c20818" stroke="none" stroke-width="0" />
<rect x="583.1" y="501.3" width="6" height="6" fill="#c20818" stroke="none" stroke-width="0" />
<rect x="602.5" y="510" width="6" height="6" fill="#c20818" stroke="none" stroke-width="0" />
<rect x="655.6" y="542.2" width="6" height="6" fill="#c20818" stroke="none" stroke-width="0" />
<line x1="457.3" y1="639.3" x2="457.3" y2="648" stroke="#d85a5a" stroke-width="1.1" />
<line x1="470" y1="626" x2="470" y2="653" stroke="#d85a5a" stroke-width="1.1" />
<line x1="489.5" y1="632.1" x2="489.5" y2="645.4" stroke="#d85a5a" stroke-width="1.1" />
<line x1="509.1" y1="622" x2="509.1" y2="665.3" stroke="#d85a5a" stroke-width="1.1" />
<line x1="528.4" y1="632.7" x2="528.4" y2="644" stroke="#d85a5a" stroke-width="1.1" />
<line x1="547.8" y1="613.8" x2="547.8" y2="648.8" stroke="#d85a5a" stroke-width="1.1" />
<line x1="567.3" y1="619.1" x2="567.3" y2="664.3" stroke="#d85a5a" stroke-width="1.1" />
<line x1="586.6" y1="625.2" x2="586.6" y2="655.5" stroke="#d85a5a" stroke-width="1.1" />
<line x1="605.9" y1="628.6" x2="605.9" y2="657.7" stroke="#d85a5a" stroke-width="1.1" />
<line x1="625.5" y1="635.5" x2="625.5" y2="676.4" stroke="#d85a5a" stroke-width="1.1" />
<line x1="659.8" y1="670" x2="659.8" y2="733.2" stroke="#d85a5a" stroke-width="1.1" />
<line x1="470" y1="659.5" x2="470" y2="681.4" stroke="#5b8fd2" stroke-width="1.1" />
<line x1="489.5" y1="672.3" x2="489.5" y2="689.7" stroke="#5b8fd2" stroke-width="1.1" />
<line x1="509.1" y1="694.1" x2="509.1" y2="719.7" stroke="#5b8fd2" stroke-width="1.1" />
<line x1="547.8" y1="659" x2="547.8" y2="675.1" stroke="#5b8fd2" stroke-width="1.1" />
<line x1="586.6" y1="680.9" x2="586.6" y2="695" stroke="#5b8fd2" stroke-width="1.1" />
<line x1="625.5" y1="675.2" x2="625.5" y2="704.8" stroke="#5b8fd2" stroke-width="1.1" />
<line x1="659.8" y1="702.5" x2="659.8" y2="719.5" stroke="#5b8fd2" stroke-width="1.1" />
<polyline points="457.3,647.7 470,670.8 489.5,681.2 509.1,707.2 547.8,667.2 586.6,688.4 625.5,689.3 659.8,714.5" fill="none" stroke="#5b8fd2" stroke-width="1.1" stroke-linejoin="round"/>
<polyline points="457.3,643.9 470,639.9 489.5,638.6 509.1,643.9 528.4,638.4 547.8,631.5 567.3,642.3 586.6,640.7 605.9,643.4 625.5,655.9 659.8,676.8 659.8,723.4" fill="none" stroke="#d85a5a" stroke-width="1.1" stroke-linejoin="round"/>
<rect x="454.3" y="644.7" width="6" height="6" fill="#0c4cac" stroke="none" stroke-width="0" />
<rect x="467" y="667.8" width="6" height="6" fill="#0c4cac" stroke="none" stroke-width="0" />
<rect x="486.5" y="678.2" width="6" height="6" fill="#0c4cac" stroke="none" stroke-width="0" />
<rect x="506.1" y="704.2" width="6" height="6" fill="#0c4cac" stroke="none" stroke-width="0" />
<rect x="544.8" y="664.2" width="6" height="6" fill="#0c4cac" stroke="none" stroke-width="0" />
<rect x="583.6" y="685.4" width="6" height="6" fill="#0c4cac" stroke="none" stroke-width="0" />
<rect x="622.5" y="686.3" width="6" height="6" fill="#0c4cac" stroke="none" stroke-width="0" />
<rect x="656.8" y="711.5" width="6" height="6" fill="#0c4cac" stroke="none" stroke-width="0" />
<rect x="454.3" y="640.9" width="6" height="6" fill="#c20818" stroke="none" stroke-width="0" />
<rect x="467" y="636.9" width="6" height="6" fill="#c20818" stroke="none" stroke-width="0" />
<rect x="486.5" y="635.6" width="6" height="6" fill="#c20818" stroke="none" stroke-width="0" />
<rect x="506.1" y="640.9" width="6" height="6" fill="#c20818" stroke="none" stroke-width="0" />
<rect x="525.4" y="635.4" width="6" height="6" fill="#c20818" stroke="none" stroke-width="0" />
<rect x="544.8" y="628.5" width="6" height="6" fill="#c20818" stroke="none" stroke-width="0" />
<rect x="564.3" y="639.3" width="6" height="6" fill="#c20818" stroke="none" stroke-width="0" />
<rect x="583.6" y="637.7" width="6" height="6" fill="#c20818" stroke="none" stroke-width="0" />
<rect x="602.9" y="640.4" width="6" height="6" fill="#c20818" stroke="none" stroke-width="0" />
<rect x="622.5" y="652.9" width="6" height="6" fill="#c20818" stroke="none" stroke-width="0" />
<rect x="656.8" y="673.8" width="6" height="6" fill="#c20818" stroke="none" stroke-width="0" />
<rect x="656.8" y="720.4" width="6" height="6" fill="#c20818" stroke="none" stroke-width="0" />
<line x1="565" y1="243.9" x2="602.5" y2="243.9" stroke="#5b8fd2" stroke-width="1.1" />
<rect x="581.8" y="240.9" width="6" height="6" fill="#0c4cac" stroke="none" stroke-width="0" />
<line x1="565" y1="264.3" x2="602.5" y2="264.3" stroke="#d85a5a" stroke-width="1.1" />
<rect x="581.8" y="261.3" width="6" height="6" fill="#c20818" stroke="none" stroke-width="0" />
<text x="608" y="250" font-size="16.9" text-anchor="start" fill="#000" stroke="#000" stroke-width="0.28" >Cooling</text>
<text x="608" y="270.4" font-size="16.9" text-anchor="start" fill="#000" stroke="#000" stroke-width="0.28" >Warming</text>
<line x1="568.4" y1="415.7" x2="606.6" y2="415.7" stroke="#5b8fd2" stroke-width="1.1" />
<rect x="585.2" y="412.7" width="6" height="6" fill="#0c4cac" stroke="none" stroke-width="0" />
<line x1="568.4" y1="436.6" x2="606.6" y2="436.6" stroke="#d85a5a" stroke-width="1.1" />
<rect x="585.2" y="433.6" width="6" height="6" fill="#c20818" stroke="none" stroke-width="0" />
<text x="612" y="421.8" font-size="16.9" text-anchor="start" fill="#000" stroke="#000" stroke-width="0.28" >Cooling</text>
<text x="612" y="442.7" font-size="16.9" text-anchor="start" fill="#000" stroke="#000" stroke-width="0.28" >Warming</text>
<line x1="568.4" y1="587.7" x2="606.6" y2="587.7" stroke="#5b8fd2" stroke-width="1.1" />
<rect x="585.2" y="584.7" width="6" height="6" fill="#0c4cac" stroke="none" stroke-width="0" />
<line x1="568.4" y1="608.6" x2="606.6" y2="608.6" stroke="#d85a5a" stroke-width="1.1" />
<rect x="585.2" y="605.6" width="6" height="6" fill="#c20818" stroke="none" stroke-width="0" />
<text x="612" y="593.8" font-size="16.9" text-anchor="start" fill="#000" stroke="#000" stroke-width="0.28" >Cooling</text>
<text x="612" y="614.7" font-size="16.9" text-anchor="start" fill="#000" stroke="#000" stroke-width="0.28" >Warming</text>
</svg>
</body></html>
